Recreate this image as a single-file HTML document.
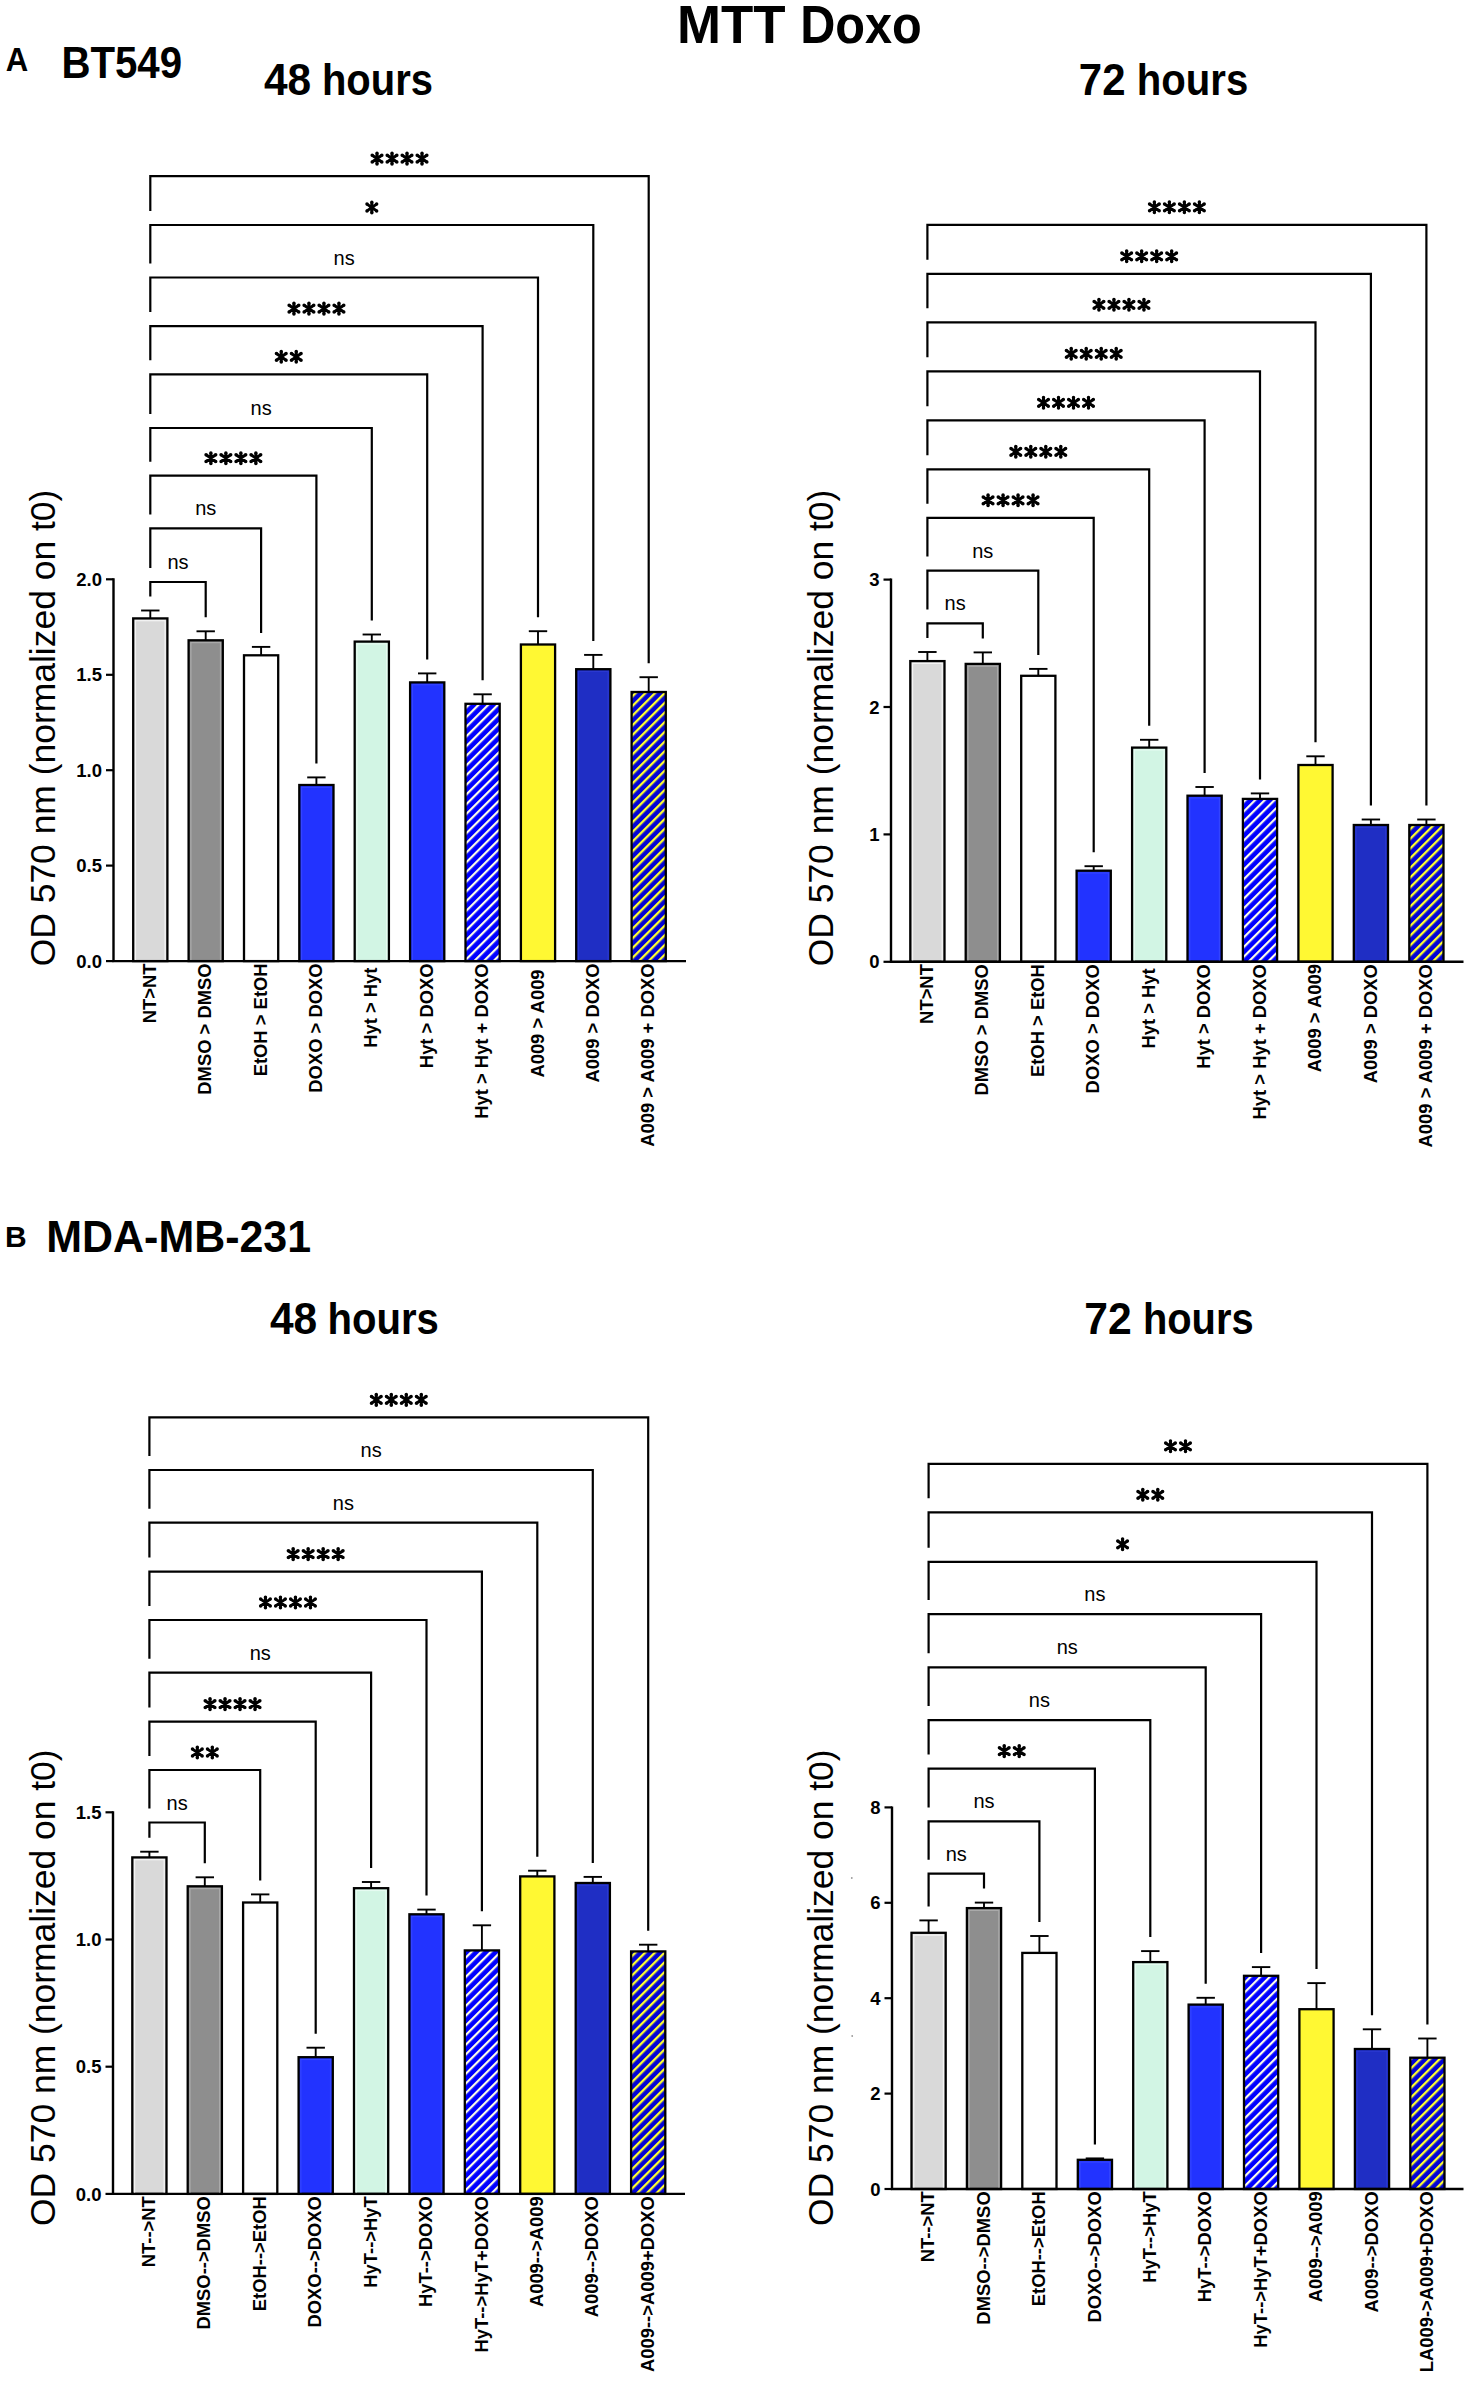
<!DOCTYPE html>
<html><head><meta charset="utf-8"><title>MTT Doxo</title>
<style>html,body{margin:0;padding:0;background:#fff;} svg{display:block;}</style></head>
<body><svg width="1475" height="2381" viewBox="0 0 1475 2381">
<defs>
<pattern id="hatchW" patternUnits="userSpaceOnUse" width="6.85" height="6.85" patternTransform="rotate(45)">
<rect width="6.85" height="6.85" fill="#0000ff"/><rect x="0" y="0" width="2.2" height="6.85" fill="#fdfde8"/></pattern>
<pattern id="hatchY" patternUnits="userSpaceOnUse" width="6.85" height="6.85" patternTransform="rotate(45)">
<rect width="6.85" height="6.85" fill="#0404d4"/><rect x="0" y="0" width="2.3" height="6.85" fill="#ffff30"/></pattern>
</defs>
<rect width="1475" height="2381" fill="#fff"/>
<text transform="translate(54.5,728.0) rotate(-90)" font-family="Liberation Sans, sans-serif" font-size="35.45" text-anchor="middle">OD 570 nm (normalized on t0)</text>
<line x1="106.0" y1="961.1" x2="113.5" y2="961.1" stroke="#000" stroke-width="2.2"/>
<text x="102.0" y="967.7" font-family="Liberation Sans, sans-serif" font-weight="bold" font-size="18.5" text-anchor="end">0.0</text>
<line x1="106.0" y1="865.6" x2="113.5" y2="865.6" stroke="#000" stroke-width="2.2"/>
<text x="102.0" y="872.2" font-family="Liberation Sans, sans-serif" font-weight="bold" font-size="18.5" text-anchor="end">0.5</text>
<line x1="106.0" y1="770.2" x2="113.5" y2="770.2" stroke="#000" stroke-width="2.2"/>
<text x="102.0" y="776.8" font-family="Liberation Sans, sans-serif" font-weight="bold" font-size="18.5" text-anchor="end">1.0</text>
<line x1="106.0" y1="674.8" x2="113.5" y2="674.8" stroke="#000" stroke-width="2.2"/>
<text x="102.0" y="681.4" font-family="Liberation Sans, sans-serif" font-weight="bold" font-size="18.5" text-anchor="end">1.5</text>
<line x1="106.0" y1="579.3" x2="113.5" y2="579.3" stroke="#000" stroke-width="2.2"/>
<text x="102.0" y="585.9" font-family="Liberation Sans, sans-serif" font-weight="bold" font-size="18.5" text-anchor="end">2.0</text>
<line x1="150.3" y1="610.5" x2="150.3" y2="618.4" stroke="#000" stroke-width="1.9"/>
<line x1="141.1" y1="610.5" x2="159.5" y2="610.5" stroke="#000" stroke-width="1.9"/>
<rect x="133.2" y="618.4" width="34.2" height="342.7" fill="#d9d9d9" stroke="#000" stroke-width="2.3"/>
<rect x="135.5" y="620.7" width="29.6" height="340.4" fill="none" stroke="#f4f4f4" stroke-width="1.2"/>
<line x1="205.7" y1="631.3" x2="205.7" y2="640.3" stroke="#000" stroke-width="1.9"/>
<line x1="196.5" y1="631.3" x2="214.9" y2="631.3" stroke="#000" stroke-width="1.9"/>
<rect x="188.6" y="640.3" width="34.2" height="320.8" fill="#8e8e8e" stroke="#000" stroke-width="2.3"/>
<rect x="190.9" y="642.6" width="29.6" height="318.5" fill="none" stroke="#aaaaaa" stroke-width="1.2"/>
<line x1="261.1" y1="646.9" x2="261.1" y2="655.3" stroke="#000" stroke-width="1.9"/>
<line x1="251.9" y1="646.9" x2="270.3" y2="646.9" stroke="#000" stroke-width="1.9"/>
<rect x="244.0" y="655.3" width="34.2" height="305.8" fill="#ffffff" stroke="#000" stroke-width="2.3"/>
<line x1="316.4" y1="777.4" x2="316.4" y2="785.0" stroke="#000" stroke-width="1.9"/>
<line x1="307.2" y1="777.4" x2="325.6" y2="777.4" stroke="#000" stroke-width="1.9"/>
<rect x="299.3" y="785.0" width="34.2" height="176.1" fill="#2233ff" stroke="#000" stroke-width="2.3"/>
<rect x="301.6" y="787.3" width="29.6" height="173.8" fill="none" stroke="#3344ff" stroke-width="1.2"/>
<line x1="371.8" y1="634.5" x2="371.8" y2="641.6" stroke="#000" stroke-width="1.9"/>
<line x1="362.6" y1="634.5" x2="381.0" y2="634.5" stroke="#000" stroke-width="1.9"/>
<rect x="354.7" y="641.6" width="34.2" height="319.5" fill="#d2f5e4" stroke="#000" stroke-width="2.3"/>
<rect x="357.0" y="643.9" width="29.6" height="317.2" fill="none" stroke="#e6fbf1" stroke-width="1.2"/>
<line x1="427.2" y1="673.4" x2="427.2" y2="682.4" stroke="#000" stroke-width="1.9"/>
<line x1="418.0" y1="673.4" x2="436.4" y2="673.4" stroke="#000" stroke-width="1.9"/>
<rect x="410.1" y="682.4" width="34.2" height="278.7" fill="#2233ff" stroke="#000" stroke-width="2.3"/>
<rect x="412.4" y="684.7" width="29.6" height="276.4" fill="none" stroke="#3344ff" stroke-width="1.2"/>
<line x1="482.6" y1="694.3" x2="482.6" y2="703.8" stroke="#000" stroke-width="1.9"/>
<line x1="473.4" y1="694.3" x2="491.8" y2="694.3" stroke="#000" stroke-width="1.9"/>
<rect x="465.5" y="703.8" width="34.2" height="257.3" fill="url(#hatchW)" stroke="#000" stroke-width="2.3"/>
<line x1="538.0" y1="631.2" x2="538.0" y2="644.5" stroke="#000" stroke-width="1.9"/>
<line x1="528.8" y1="631.2" x2="547.2" y2="631.2" stroke="#000" stroke-width="1.9"/>
<rect x="520.9" y="644.5" width="34.2" height="316.6" fill="#fff833" stroke="#000" stroke-width="2.3"/>
<line x1="593.3" y1="654.9" x2="593.3" y2="669.2" stroke="#000" stroke-width="1.9"/>
<line x1="584.1" y1="654.9" x2="602.5" y2="654.9" stroke="#000" stroke-width="1.9"/>
<rect x="576.2" y="669.2" width="34.2" height="291.9" fill="#1f2ec4" stroke="#000" stroke-width="2.3"/>
<rect x="578.5" y="671.5" width="29.6" height="289.6" fill="none" stroke="#2a38d0" stroke-width="1.2"/>
<line x1="648.7" y1="677.2" x2="648.7" y2="692.0" stroke="#000" stroke-width="1.9"/>
<line x1="639.5" y1="677.2" x2="657.9" y2="677.2" stroke="#000" stroke-width="1.9"/>
<rect x="631.6" y="692.0" width="34.2" height="269.1" fill="url(#hatchY)" stroke="#000" stroke-width="2.3"/>
<path d="M113.5 578.3L113.5 961.1L686.0 961.1" stroke="#000" stroke-width="2.4" fill="none"/>
<text transform="translate(155.9,963.4) rotate(-90)" font-family="Liberation Sans, sans-serif" font-weight="bold" font-size="18.4" text-anchor="end">NT&gt;NT</text>
<text transform="translate(211.3,963.4) rotate(-90)" font-family="Liberation Sans, sans-serif" font-weight="bold" font-size="18.4" text-anchor="end">DMSO &gt; DMSO</text>
<text transform="translate(266.7,963.4) rotate(-90)" font-family="Liberation Sans, sans-serif" font-weight="bold" font-size="18.4" text-anchor="end">EtOH &gt; EtOH</text>
<text transform="translate(322.0,963.4) rotate(-90)" font-family="Liberation Sans, sans-serif" font-weight="bold" font-size="18.4" text-anchor="end">DOXO &gt; DOXO</text>
<text transform="translate(377.4,967.6) rotate(-90)" font-family="Liberation Sans, sans-serif" font-weight="bold" font-size="18.4" text-anchor="end">Hyt &gt; Hyt</text>
<text transform="translate(432.8,963.4) rotate(-90)" font-family="Liberation Sans, sans-serif" font-weight="bold" font-size="18.4" text-anchor="end">Hyt &gt; DOXO</text>
<text transform="translate(488.2,963.4) rotate(-90)" font-family="Liberation Sans, sans-serif" font-weight="bold" font-size="18.4" text-anchor="end">Hyt &gt; Hyt + DOXO</text>
<text transform="translate(543.6,969.4) rotate(-90)" font-family="Liberation Sans, sans-serif" font-weight="bold" font-size="18.4" text-anchor="end">A009 &gt; A009</text>
<text transform="translate(598.9,963.4) rotate(-90)" font-family="Liberation Sans, sans-serif" font-weight="bold" font-size="18.4" text-anchor="end">A009 &gt; DOXO</text>
<text transform="translate(654.3,963.4) rotate(-90)" font-family="Liberation Sans, sans-serif" font-weight="bold" font-size="18.4" text-anchor="end">A009 &gt; A009 + DOXO</text>
<path d="M150.3 596.5L150.3 582.0L205.7 582.0L205.7 617.3" stroke="#000" stroke-width="2.2" fill="none"/>
<text x="178.0" y="569.0" font-family="Liberation Sans, sans-serif" font-size="20" text-anchor="middle">ns</text>
<path d="M150.3 568.0L150.3 528.4L261.1 528.4L261.1 632.9" stroke="#000" stroke-width="2.2" fill="none"/>
<text x="205.7" y="515.4" font-family="Liberation Sans, sans-serif" font-size="20" text-anchor="middle">ns</text>
<path d="M150.3 514.4L150.3 475.7L316.4 475.7L316.4 763.4" stroke="#000" stroke-width="2.2" fill="none"/>
<path d="M210.87 463.50L210.87 452.90M206.04 461.58L215.70 454.82M206.04 454.82L215.70 461.58M225.87 463.50L225.87 452.90M221.04 461.58L230.70 454.82M221.04 454.82L230.70 461.58M240.87 463.50L240.87 452.90M236.04 461.58L245.70 454.82M236.04 454.82L245.70 461.58M255.87 463.50L255.87 452.90M251.04 461.58L260.70 454.82M251.04 454.82L260.70 461.58" stroke="#000" stroke-width="3.0" stroke-linecap="butt" fill="none"/><path d="M209.12 463.50a1.75 1.75 0 1 0 3.5 0a1.75 1.75 0 1 0 -3.5 0M209.12 452.90a1.75 1.75 0 1 0 3.5 0a1.75 1.75 0 1 0 -3.5 0M204.29 461.58a1.75 1.75 0 1 0 3.5 0a1.75 1.75 0 1 0 -3.5 0M213.95 454.82a1.75 1.75 0 1 0 3.5 0a1.75 1.75 0 1 0 -3.5 0M204.29 454.82a1.75 1.75 0 1 0 3.5 0a1.75 1.75 0 1 0 -3.5 0M213.95 461.58a1.75 1.75 0 1 0 3.5 0a1.75 1.75 0 1 0 -3.5 0M224.12 463.50a1.75 1.75 0 1 0 3.5 0a1.75 1.75 0 1 0 -3.5 0M224.12 452.90a1.75 1.75 0 1 0 3.5 0a1.75 1.75 0 1 0 -3.5 0M219.29 461.58a1.75 1.75 0 1 0 3.5 0a1.75 1.75 0 1 0 -3.5 0M228.95 454.82a1.75 1.75 0 1 0 3.5 0a1.75 1.75 0 1 0 -3.5 0M219.29 454.82a1.75 1.75 0 1 0 3.5 0a1.75 1.75 0 1 0 -3.5 0M228.95 461.58a1.75 1.75 0 1 0 3.5 0a1.75 1.75 0 1 0 -3.5 0M239.12 463.50a1.75 1.75 0 1 0 3.5 0a1.75 1.75 0 1 0 -3.5 0M239.12 452.90a1.75 1.75 0 1 0 3.5 0a1.75 1.75 0 1 0 -3.5 0M234.29 461.58a1.75 1.75 0 1 0 3.5 0a1.75 1.75 0 1 0 -3.5 0M243.95 454.82a1.75 1.75 0 1 0 3.5 0a1.75 1.75 0 1 0 -3.5 0M234.29 454.82a1.75 1.75 0 1 0 3.5 0a1.75 1.75 0 1 0 -3.5 0M243.95 461.58a1.75 1.75 0 1 0 3.5 0a1.75 1.75 0 1 0 -3.5 0M254.12 463.50a1.75 1.75 0 1 0 3.5 0a1.75 1.75 0 1 0 -3.5 0M254.12 452.90a1.75 1.75 0 1 0 3.5 0a1.75 1.75 0 1 0 -3.5 0M249.29 461.58a1.75 1.75 0 1 0 3.5 0a1.75 1.75 0 1 0 -3.5 0M258.95 454.82a1.75 1.75 0 1 0 3.5 0a1.75 1.75 0 1 0 -3.5 0M249.29 454.82a1.75 1.75 0 1 0 3.5 0a1.75 1.75 0 1 0 -3.5 0M258.95 461.58a1.75 1.75 0 1 0 3.5 0a1.75 1.75 0 1 0 -3.5 0" fill="#000"/>
<path d="M150.3 461.7L150.3 428.0L371.8 428.0L371.8 620.5" stroke="#000" stroke-width="2.2" fill="none"/>
<text x="261.1" y="415.0" font-family="Liberation Sans, sans-serif" font-size="20" text-anchor="middle">ns</text>
<path d="M150.3 414.0L150.3 374.3L427.2 374.3L427.2 659.4" stroke="#000" stroke-width="2.2" fill="none"/>
<path d="M281.25 362.10L281.25 351.50M276.42 360.18L286.08 353.42M276.42 353.42L286.08 360.18M296.25 362.10L296.25 351.50M291.42 360.18L301.08 353.42M291.42 353.42L301.08 360.18" stroke="#000" stroke-width="3.0" stroke-linecap="butt" fill="none"/><path d="M279.50 362.10a1.75 1.75 0 1 0 3.5 0a1.75 1.75 0 1 0 -3.5 0M279.50 351.50a1.75 1.75 0 1 0 3.5 0a1.75 1.75 0 1 0 -3.5 0M274.67 360.18a1.75 1.75 0 1 0 3.5 0a1.75 1.75 0 1 0 -3.5 0M284.33 353.42a1.75 1.75 0 1 0 3.5 0a1.75 1.75 0 1 0 -3.5 0M274.67 353.42a1.75 1.75 0 1 0 3.5 0a1.75 1.75 0 1 0 -3.5 0M284.33 360.18a1.75 1.75 0 1 0 3.5 0a1.75 1.75 0 1 0 -3.5 0M294.50 362.10a1.75 1.75 0 1 0 3.5 0a1.75 1.75 0 1 0 -3.5 0M294.50 351.50a1.75 1.75 0 1 0 3.5 0a1.75 1.75 0 1 0 -3.5 0M289.67 360.18a1.75 1.75 0 1 0 3.5 0a1.75 1.75 0 1 0 -3.5 0M299.33 353.42a1.75 1.75 0 1 0 3.5 0a1.75 1.75 0 1 0 -3.5 0M289.67 353.42a1.75 1.75 0 1 0 3.5 0a1.75 1.75 0 1 0 -3.5 0M299.33 360.18a1.75 1.75 0 1 0 3.5 0a1.75 1.75 0 1 0 -3.5 0" fill="#000"/>
<path d="M150.3 360.3L150.3 326.1L482.6 326.1L482.6 680.3" stroke="#000" stroke-width="2.2" fill="none"/>
<path d="M293.94 313.90L293.94 303.30M289.11 311.98L298.77 305.22M289.11 305.22L298.77 311.98M308.94 313.90L308.94 303.30M304.11 311.98L313.77 305.22M304.11 305.22L313.77 311.98M323.94 313.90L323.94 303.30M319.11 311.98L328.77 305.22M319.11 305.22L328.77 311.98M338.94 313.90L338.94 303.30M334.11 311.98L343.77 305.22M334.11 305.22L343.77 311.98" stroke="#000" stroke-width="3.0" stroke-linecap="butt" fill="none"/><path d="M292.19 313.90a1.75 1.75 0 1 0 3.5 0a1.75 1.75 0 1 0 -3.5 0M292.19 303.30a1.75 1.75 0 1 0 3.5 0a1.75 1.75 0 1 0 -3.5 0M287.36 311.98a1.75 1.75 0 1 0 3.5 0a1.75 1.75 0 1 0 -3.5 0M297.02 305.22a1.75 1.75 0 1 0 3.5 0a1.75 1.75 0 1 0 -3.5 0M287.36 305.22a1.75 1.75 0 1 0 3.5 0a1.75 1.75 0 1 0 -3.5 0M297.02 311.98a1.75 1.75 0 1 0 3.5 0a1.75 1.75 0 1 0 -3.5 0M307.19 313.90a1.75 1.75 0 1 0 3.5 0a1.75 1.75 0 1 0 -3.5 0M307.19 303.30a1.75 1.75 0 1 0 3.5 0a1.75 1.75 0 1 0 -3.5 0M302.36 311.98a1.75 1.75 0 1 0 3.5 0a1.75 1.75 0 1 0 -3.5 0M312.02 305.22a1.75 1.75 0 1 0 3.5 0a1.75 1.75 0 1 0 -3.5 0M302.36 305.22a1.75 1.75 0 1 0 3.5 0a1.75 1.75 0 1 0 -3.5 0M312.02 311.98a1.75 1.75 0 1 0 3.5 0a1.75 1.75 0 1 0 -3.5 0M322.19 313.90a1.75 1.75 0 1 0 3.5 0a1.75 1.75 0 1 0 -3.5 0M322.19 303.30a1.75 1.75 0 1 0 3.5 0a1.75 1.75 0 1 0 -3.5 0M317.36 311.98a1.75 1.75 0 1 0 3.5 0a1.75 1.75 0 1 0 -3.5 0M327.02 305.22a1.75 1.75 0 1 0 3.5 0a1.75 1.75 0 1 0 -3.5 0M317.36 305.22a1.75 1.75 0 1 0 3.5 0a1.75 1.75 0 1 0 -3.5 0M327.02 311.98a1.75 1.75 0 1 0 3.5 0a1.75 1.75 0 1 0 -3.5 0M337.19 313.90a1.75 1.75 0 1 0 3.5 0a1.75 1.75 0 1 0 -3.5 0M337.19 303.30a1.75 1.75 0 1 0 3.5 0a1.75 1.75 0 1 0 -3.5 0M332.36 311.98a1.75 1.75 0 1 0 3.5 0a1.75 1.75 0 1 0 -3.5 0M342.02 305.22a1.75 1.75 0 1 0 3.5 0a1.75 1.75 0 1 0 -3.5 0M332.36 305.22a1.75 1.75 0 1 0 3.5 0a1.75 1.75 0 1 0 -3.5 0M342.02 311.98a1.75 1.75 0 1 0 3.5 0a1.75 1.75 0 1 0 -3.5 0" fill="#000"/>
<path d="M150.3 312.1L150.3 277.5L538.0 277.5L538.0 617.2" stroke="#000" stroke-width="2.2" fill="none"/>
<text x="344.1" y="264.5" font-family="Liberation Sans, sans-serif" font-size="20" text-anchor="middle">ns</text>
<path d="M150.3 263.5L150.3 225.0L593.3 225.0L593.3 640.9" stroke="#000" stroke-width="2.2" fill="none"/>
<path d="M371.82 212.80L371.82 202.20M366.99 210.88L376.65 204.12M366.99 204.12L376.65 210.88" stroke="#000" stroke-width="3.0" stroke-linecap="butt" fill="none"/><path d="M370.07 212.80a1.75 1.75 0 1 0 3.5 0a1.75 1.75 0 1 0 -3.5 0M370.07 202.20a1.75 1.75 0 1 0 3.5 0a1.75 1.75 0 1 0 -3.5 0M365.24 210.88a1.75 1.75 0 1 0 3.5 0a1.75 1.75 0 1 0 -3.5 0M374.90 204.12a1.75 1.75 0 1 0 3.5 0a1.75 1.75 0 1 0 -3.5 0M365.24 204.12a1.75 1.75 0 1 0 3.5 0a1.75 1.75 0 1 0 -3.5 0M374.90 210.88a1.75 1.75 0 1 0 3.5 0a1.75 1.75 0 1 0 -3.5 0" fill="#000"/>
<path d="M150.3 211.0L150.3 176.1L648.7 176.1L648.7 663.2" stroke="#000" stroke-width="2.2" fill="none"/>
<path d="M377.01 163.90L377.01 153.30M372.18 161.98L381.84 155.22M372.18 155.22L381.84 161.98M392.01 163.90L392.01 153.30M387.18 161.98L396.84 155.22M387.18 155.22L396.84 161.98M407.01 163.90L407.01 153.30M402.18 161.98L411.84 155.22M402.18 155.22L411.84 161.98M422.01 163.90L422.01 153.30M417.18 161.98L426.84 155.22M417.18 155.22L426.84 161.98" stroke="#000" stroke-width="3.0" stroke-linecap="butt" fill="none"/><path d="M375.26 163.90a1.75 1.75 0 1 0 3.5 0a1.75 1.75 0 1 0 -3.5 0M375.26 153.30a1.75 1.75 0 1 0 3.5 0a1.75 1.75 0 1 0 -3.5 0M370.43 161.98a1.75 1.75 0 1 0 3.5 0a1.75 1.75 0 1 0 -3.5 0M380.09 155.22a1.75 1.75 0 1 0 3.5 0a1.75 1.75 0 1 0 -3.5 0M370.43 155.22a1.75 1.75 0 1 0 3.5 0a1.75 1.75 0 1 0 -3.5 0M380.09 161.98a1.75 1.75 0 1 0 3.5 0a1.75 1.75 0 1 0 -3.5 0M390.26 163.90a1.75 1.75 0 1 0 3.5 0a1.75 1.75 0 1 0 -3.5 0M390.26 153.30a1.75 1.75 0 1 0 3.5 0a1.75 1.75 0 1 0 -3.5 0M385.43 161.98a1.75 1.75 0 1 0 3.5 0a1.75 1.75 0 1 0 -3.5 0M395.09 155.22a1.75 1.75 0 1 0 3.5 0a1.75 1.75 0 1 0 -3.5 0M385.43 155.22a1.75 1.75 0 1 0 3.5 0a1.75 1.75 0 1 0 -3.5 0M395.09 161.98a1.75 1.75 0 1 0 3.5 0a1.75 1.75 0 1 0 -3.5 0M405.26 163.90a1.75 1.75 0 1 0 3.5 0a1.75 1.75 0 1 0 -3.5 0M405.26 153.30a1.75 1.75 0 1 0 3.5 0a1.75 1.75 0 1 0 -3.5 0M400.43 161.98a1.75 1.75 0 1 0 3.5 0a1.75 1.75 0 1 0 -3.5 0M410.09 155.22a1.75 1.75 0 1 0 3.5 0a1.75 1.75 0 1 0 -3.5 0M400.43 155.22a1.75 1.75 0 1 0 3.5 0a1.75 1.75 0 1 0 -3.5 0M410.09 161.98a1.75 1.75 0 1 0 3.5 0a1.75 1.75 0 1 0 -3.5 0M420.26 163.90a1.75 1.75 0 1 0 3.5 0a1.75 1.75 0 1 0 -3.5 0M420.26 153.30a1.75 1.75 0 1 0 3.5 0a1.75 1.75 0 1 0 -3.5 0M415.43 161.98a1.75 1.75 0 1 0 3.5 0a1.75 1.75 0 1 0 -3.5 0M425.09 155.22a1.75 1.75 0 1 0 3.5 0a1.75 1.75 0 1 0 -3.5 0M415.43 155.22a1.75 1.75 0 1 0 3.5 0a1.75 1.75 0 1 0 -3.5 0M425.09 161.98a1.75 1.75 0 1 0 3.5 0a1.75 1.75 0 1 0 -3.5 0" fill="#000"/>
<text transform="translate(833.1,728.0) rotate(-90)" font-family="Liberation Sans, sans-serif" font-size="35.45" text-anchor="middle">OD 570 nm (normalized on t0)</text>
<line x1="883.5" y1="961.8" x2="891.0" y2="961.8" stroke="#000" stroke-width="2.2"/>
<text x="879.5" y="968.4" font-family="Liberation Sans, sans-serif" font-weight="bold" font-size="18.5" text-anchor="end">0</text>
<line x1="883.5" y1="834.4" x2="891.0" y2="834.4" stroke="#000" stroke-width="2.2"/>
<text x="879.5" y="841.0" font-family="Liberation Sans, sans-serif" font-weight="bold" font-size="18.5" text-anchor="end">1</text>
<line x1="883.5" y1="707.0" x2="891.0" y2="707.0" stroke="#000" stroke-width="2.2"/>
<text x="879.5" y="713.6" font-family="Liberation Sans, sans-serif" font-weight="bold" font-size="18.5" text-anchor="end">2</text>
<line x1="883.5" y1="579.6" x2="891.0" y2="579.6" stroke="#000" stroke-width="2.2"/>
<text x="879.5" y="586.2" font-family="Liberation Sans, sans-serif" font-weight="bold" font-size="18.5" text-anchor="end">3</text>
<line x1="927.4" y1="652.0" x2="927.4" y2="661.1" stroke="#000" stroke-width="1.9"/>
<line x1="918.2" y1="652.0" x2="936.6" y2="652.0" stroke="#000" stroke-width="1.9"/>
<rect x="910.3" y="661.1" width="34.2" height="300.7" fill="#d9d9d9" stroke="#000" stroke-width="2.3"/>
<rect x="912.6" y="663.4" width="29.6" height="298.4" fill="none" stroke="#f4f4f4" stroke-width="1.2"/>
<line x1="982.8" y1="652.4" x2="982.8" y2="663.9" stroke="#000" stroke-width="1.9"/>
<line x1="973.6" y1="652.4" x2="992.0" y2="652.4" stroke="#000" stroke-width="1.9"/>
<rect x="965.7" y="663.9" width="34.2" height="297.9" fill="#8e8e8e" stroke="#000" stroke-width="2.3"/>
<rect x="968.0" y="666.2" width="29.6" height="295.6" fill="none" stroke="#aaaaaa" stroke-width="1.2"/>
<line x1="1038.3" y1="668.9" x2="1038.3" y2="675.8" stroke="#000" stroke-width="1.9"/>
<line x1="1029.1" y1="668.9" x2="1047.5" y2="668.9" stroke="#000" stroke-width="1.9"/>
<rect x="1021.2" y="675.8" width="34.2" height="286.0" fill="#ffffff" stroke="#000" stroke-width="2.3"/>
<line x1="1093.7" y1="866.2" x2="1093.7" y2="870.7" stroke="#000" stroke-width="1.9"/>
<line x1="1084.5" y1="866.2" x2="1102.9" y2="866.2" stroke="#000" stroke-width="1.9"/>
<rect x="1076.6" y="870.7" width="34.2" height="91.1" fill="#2233ff" stroke="#000" stroke-width="2.3"/>
<rect x="1078.9" y="873.0" width="29.6" height="88.8" fill="none" stroke="#3344ff" stroke-width="1.2"/>
<line x1="1149.2" y1="739.8" x2="1149.2" y2="747.6" stroke="#000" stroke-width="1.9"/>
<line x1="1140.0" y1="739.8" x2="1158.4" y2="739.8" stroke="#000" stroke-width="1.9"/>
<rect x="1132.1" y="747.6" width="34.2" height="214.2" fill="#d2f5e4" stroke="#000" stroke-width="2.3"/>
<rect x="1134.4" y="749.9" width="29.6" height="211.9" fill="none" stroke="#e6fbf1" stroke-width="1.2"/>
<line x1="1204.6" y1="787.0" x2="1204.6" y2="795.7" stroke="#000" stroke-width="1.9"/>
<line x1="1195.4" y1="787.0" x2="1213.8" y2="787.0" stroke="#000" stroke-width="1.9"/>
<rect x="1187.5" y="795.7" width="34.2" height="166.1" fill="#2233ff" stroke="#000" stroke-width="2.3"/>
<rect x="1189.8" y="798.0" width="29.6" height="163.8" fill="none" stroke="#3344ff" stroke-width="1.2"/>
<line x1="1260.0" y1="793.4" x2="1260.0" y2="798.9" stroke="#000" stroke-width="1.9"/>
<line x1="1250.8" y1="793.4" x2="1269.2" y2="793.4" stroke="#000" stroke-width="1.9"/>
<rect x="1242.9" y="798.9" width="34.2" height="162.9" fill="url(#hatchW)" stroke="#000" stroke-width="2.3"/>
<line x1="1315.5" y1="756.3" x2="1315.5" y2="765.0" stroke="#000" stroke-width="1.9"/>
<line x1="1306.3" y1="756.3" x2="1324.7" y2="756.3" stroke="#000" stroke-width="1.9"/>
<rect x="1298.4" y="765.0" width="34.2" height="196.8" fill="#fff833" stroke="#000" stroke-width="2.3"/>
<line x1="1370.9" y1="819.5" x2="1370.9" y2="825.0" stroke="#000" stroke-width="1.9"/>
<line x1="1361.7" y1="819.5" x2="1380.1" y2="819.5" stroke="#000" stroke-width="1.9"/>
<rect x="1353.8" y="825.0" width="34.2" height="136.8" fill="#1f2ec4" stroke="#000" stroke-width="2.3"/>
<rect x="1356.1" y="827.3" width="29.6" height="134.5" fill="none" stroke="#2a38d0" stroke-width="1.2"/>
<line x1="1426.4" y1="819.5" x2="1426.4" y2="825.0" stroke="#000" stroke-width="1.9"/>
<line x1="1417.2" y1="819.5" x2="1435.6" y2="819.5" stroke="#000" stroke-width="1.9"/>
<rect x="1409.3" y="825.0" width="34.2" height="136.8" fill="url(#hatchY)" stroke="#000" stroke-width="2.3"/>
<path d="M891.0 578.6L891.0 961.8L1463.5 961.8" stroke="#000" stroke-width="2.4" fill="none"/>
<text transform="translate(933.0,964.1) rotate(-90)" font-family="Liberation Sans, sans-serif" font-weight="bold" font-size="18.4" text-anchor="end">NT&gt;NT</text>
<text transform="translate(988.4,964.1) rotate(-90)" font-family="Liberation Sans, sans-serif" font-weight="bold" font-size="18.4" text-anchor="end">DMSO &gt; DMSO</text>
<text transform="translate(1043.9,964.1) rotate(-90)" font-family="Liberation Sans, sans-serif" font-weight="bold" font-size="18.4" text-anchor="end">EtOH &gt; EtOH</text>
<text transform="translate(1099.3,964.1) rotate(-90)" font-family="Liberation Sans, sans-serif" font-weight="bold" font-size="18.4" text-anchor="end">DOXO &gt; DOXO</text>
<text transform="translate(1154.8,968.3) rotate(-90)" font-family="Liberation Sans, sans-serif" font-weight="bold" font-size="18.4" text-anchor="end">Hyt &gt; Hyt</text>
<text transform="translate(1210.2,964.1) rotate(-90)" font-family="Liberation Sans, sans-serif" font-weight="bold" font-size="18.4" text-anchor="end">Hyt &gt; DOXO</text>
<text transform="translate(1265.6,964.1) rotate(-90)" font-family="Liberation Sans, sans-serif" font-weight="bold" font-size="18.4" text-anchor="end">Hyt &gt; Hyt + DOXO</text>
<text transform="translate(1321.1,964.1) rotate(-90)" font-family="Liberation Sans, sans-serif" font-weight="bold" font-size="18.4" text-anchor="end">A009 &gt; A009</text>
<text transform="translate(1376.5,964.1) rotate(-90)" font-family="Liberation Sans, sans-serif" font-weight="bold" font-size="18.4" text-anchor="end">A009 &gt; DOXO</text>
<text transform="translate(1432.0,964.1) rotate(-90)" font-family="Liberation Sans, sans-serif" font-weight="bold" font-size="18.4" text-anchor="end">A009 &gt; A009 + DOXO</text>
<path d="M927.4 638.0L927.4 623.4L982.8 623.4L982.8 638.4" stroke="#000" stroke-width="2.2" fill="none"/>
<text x="955.1" y="610.4" font-family="Liberation Sans, sans-serif" font-size="20" text-anchor="middle">ns</text>
<path d="M927.4 609.4L927.4 570.6L1038.3 570.6L1038.3 654.9" stroke="#000" stroke-width="2.2" fill="none"/>
<text x="982.8" y="557.6" font-family="Liberation Sans, sans-serif" font-size="20" text-anchor="middle">ns</text>
<path d="M927.4 556.6L927.4 517.8L1093.7 517.8L1093.7 852.2" stroke="#000" stroke-width="2.2" fill="none"/>
<path d="M988.06 505.60L988.06 495.00M983.23 503.68L992.89 496.92M983.23 496.92L992.89 503.68M1003.06 505.60L1003.06 495.00M998.23 503.68L1007.89 496.92M998.23 496.92L1007.89 503.68M1018.06 505.60L1018.06 495.00M1013.23 503.68L1022.89 496.92M1013.23 496.92L1022.89 503.68M1033.06 505.60L1033.06 495.00M1028.23 503.68L1037.89 496.92M1028.23 496.92L1037.89 503.68" stroke="#000" stroke-width="3.0" stroke-linecap="butt" fill="none"/><path d="M986.31 505.60a1.75 1.75 0 1 0 3.5 0a1.75 1.75 0 1 0 -3.5 0M986.31 495.00a1.75 1.75 0 1 0 3.5 0a1.75 1.75 0 1 0 -3.5 0M981.48 503.68a1.75 1.75 0 1 0 3.5 0a1.75 1.75 0 1 0 -3.5 0M991.14 496.92a1.75 1.75 0 1 0 3.5 0a1.75 1.75 0 1 0 -3.5 0M981.48 496.92a1.75 1.75 0 1 0 3.5 0a1.75 1.75 0 1 0 -3.5 0M991.14 503.68a1.75 1.75 0 1 0 3.5 0a1.75 1.75 0 1 0 -3.5 0M1001.31 505.60a1.75 1.75 0 1 0 3.5 0a1.75 1.75 0 1 0 -3.5 0M1001.31 495.00a1.75 1.75 0 1 0 3.5 0a1.75 1.75 0 1 0 -3.5 0M996.48 503.68a1.75 1.75 0 1 0 3.5 0a1.75 1.75 0 1 0 -3.5 0M1006.14 496.92a1.75 1.75 0 1 0 3.5 0a1.75 1.75 0 1 0 -3.5 0M996.48 496.92a1.75 1.75 0 1 0 3.5 0a1.75 1.75 0 1 0 -3.5 0M1006.14 503.68a1.75 1.75 0 1 0 3.5 0a1.75 1.75 0 1 0 -3.5 0M1016.31 505.60a1.75 1.75 0 1 0 3.5 0a1.75 1.75 0 1 0 -3.5 0M1016.31 495.00a1.75 1.75 0 1 0 3.5 0a1.75 1.75 0 1 0 -3.5 0M1011.48 503.68a1.75 1.75 0 1 0 3.5 0a1.75 1.75 0 1 0 -3.5 0M1021.14 496.92a1.75 1.75 0 1 0 3.5 0a1.75 1.75 0 1 0 -3.5 0M1011.48 496.92a1.75 1.75 0 1 0 3.5 0a1.75 1.75 0 1 0 -3.5 0M1021.14 503.68a1.75 1.75 0 1 0 3.5 0a1.75 1.75 0 1 0 -3.5 0M1031.31 505.60a1.75 1.75 0 1 0 3.5 0a1.75 1.75 0 1 0 -3.5 0M1031.31 495.00a1.75 1.75 0 1 0 3.5 0a1.75 1.75 0 1 0 -3.5 0M1026.48 503.68a1.75 1.75 0 1 0 3.5 0a1.75 1.75 0 1 0 -3.5 0M1036.14 496.92a1.75 1.75 0 1 0 3.5 0a1.75 1.75 0 1 0 -3.5 0M1026.48 496.92a1.75 1.75 0 1 0 3.5 0a1.75 1.75 0 1 0 -3.5 0M1036.14 503.68a1.75 1.75 0 1 0 3.5 0a1.75 1.75 0 1 0 -3.5 0" fill="#000"/>
<path d="M927.4 503.8L927.4 469.3L1149.2 469.3L1149.2 725.8" stroke="#000" stroke-width="2.2" fill="none"/>
<path d="M1015.78 457.10L1015.78 446.50M1010.95 455.18L1020.61 448.42M1010.95 448.42L1020.61 455.18M1030.78 457.10L1030.78 446.50M1025.95 455.18L1035.61 448.42M1025.95 448.42L1035.61 455.18M1045.78 457.10L1045.78 446.50M1040.95 455.18L1050.61 448.42M1040.95 448.42L1050.61 455.18M1060.78 457.10L1060.78 446.50M1055.95 455.18L1065.61 448.42M1055.95 448.42L1065.61 455.18" stroke="#000" stroke-width="3.0" stroke-linecap="butt" fill="none"/><path d="M1014.03 457.10a1.75 1.75 0 1 0 3.5 0a1.75 1.75 0 1 0 -3.5 0M1014.03 446.50a1.75 1.75 0 1 0 3.5 0a1.75 1.75 0 1 0 -3.5 0M1009.20 455.18a1.75 1.75 0 1 0 3.5 0a1.75 1.75 0 1 0 -3.5 0M1018.86 448.42a1.75 1.75 0 1 0 3.5 0a1.75 1.75 0 1 0 -3.5 0M1009.20 448.42a1.75 1.75 0 1 0 3.5 0a1.75 1.75 0 1 0 -3.5 0M1018.86 455.18a1.75 1.75 0 1 0 3.5 0a1.75 1.75 0 1 0 -3.5 0M1029.03 457.10a1.75 1.75 0 1 0 3.5 0a1.75 1.75 0 1 0 -3.5 0M1029.03 446.50a1.75 1.75 0 1 0 3.5 0a1.75 1.75 0 1 0 -3.5 0M1024.20 455.18a1.75 1.75 0 1 0 3.5 0a1.75 1.75 0 1 0 -3.5 0M1033.86 448.42a1.75 1.75 0 1 0 3.5 0a1.75 1.75 0 1 0 -3.5 0M1024.20 448.42a1.75 1.75 0 1 0 3.5 0a1.75 1.75 0 1 0 -3.5 0M1033.86 455.18a1.75 1.75 0 1 0 3.5 0a1.75 1.75 0 1 0 -3.5 0M1044.03 457.10a1.75 1.75 0 1 0 3.5 0a1.75 1.75 0 1 0 -3.5 0M1044.03 446.50a1.75 1.75 0 1 0 3.5 0a1.75 1.75 0 1 0 -3.5 0M1039.20 455.18a1.75 1.75 0 1 0 3.5 0a1.75 1.75 0 1 0 -3.5 0M1048.86 448.42a1.75 1.75 0 1 0 3.5 0a1.75 1.75 0 1 0 -3.5 0M1039.20 448.42a1.75 1.75 0 1 0 3.5 0a1.75 1.75 0 1 0 -3.5 0M1048.86 455.18a1.75 1.75 0 1 0 3.5 0a1.75 1.75 0 1 0 -3.5 0M1059.03 457.10a1.75 1.75 0 1 0 3.5 0a1.75 1.75 0 1 0 -3.5 0M1059.03 446.50a1.75 1.75 0 1 0 3.5 0a1.75 1.75 0 1 0 -3.5 0M1054.20 455.18a1.75 1.75 0 1 0 3.5 0a1.75 1.75 0 1 0 -3.5 0M1063.86 448.42a1.75 1.75 0 1 0 3.5 0a1.75 1.75 0 1 0 -3.5 0M1054.20 448.42a1.75 1.75 0 1 0 3.5 0a1.75 1.75 0 1 0 -3.5 0M1063.86 455.18a1.75 1.75 0 1 0 3.5 0a1.75 1.75 0 1 0 -3.5 0" fill="#000"/>
<path d="M927.4 455.3L927.4 420.3L1204.6 420.3L1204.6 773.0" stroke="#000" stroke-width="2.2" fill="none"/>
<path d="M1043.50 408.10L1043.50 397.50M1038.67 406.18L1048.33 399.42M1038.67 399.42L1048.33 406.18M1058.50 408.10L1058.50 397.50M1053.67 406.18L1063.33 399.42M1053.67 399.42L1063.33 406.18M1073.50 408.10L1073.50 397.50M1068.67 406.18L1078.33 399.42M1068.67 399.42L1078.33 406.18M1088.50 408.10L1088.50 397.50M1083.67 406.18L1093.33 399.42M1083.67 399.42L1093.33 406.18" stroke="#000" stroke-width="3.0" stroke-linecap="butt" fill="none"/><path d="M1041.75 408.10a1.75 1.75 0 1 0 3.5 0a1.75 1.75 0 1 0 -3.5 0M1041.75 397.50a1.75 1.75 0 1 0 3.5 0a1.75 1.75 0 1 0 -3.5 0M1036.92 406.18a1.75 1.75 0 1 0 3.5 0a1.75 1.75 0 1 0 -3.5 0M1046.58 399.42a1.75 1.75 0 1 0 3.5 0a1.75 1.75 0 1 0 -3.5 0M1036.92 399.42a1.75 1.75 0 1 0 3.5 0a1.75 1.75 0 1 0 -3.5 0M1046.58 406.18a1.75 1.75 0 1 0 3.5 0a1.75 1.75 0 1 0 -3.5 0M1056.75 408.10a1.75 1.75 0 1 0 3.5 0a1.75 1.75 0 1 0 -3.5 0M1056.75 397.50a1.75 1.75 0 1 0 3.5 0a1.75 1.75 0 1 0 -3.5 0M1051.92 406.18a1.75 1.75 0 1 0 3.5 0a1.75 1.75 0 1 0 -3.5 0M1061.58 399.42a1.75 1.75 0 1 0 3.5 0a1.75 1.75 0 1 0 -3.5 0M1051.92 399.42a1.75 1.75 0 1 0 3.5 0a1.75 1.75 0 1 0 -3.5 0M1061.58 406.18a1.75 1.75 0 1 0 3.5 0a1.75 1.75 0 1 0 -3.5 0M1071.75 408.10a1.75 1.75 0 1 0 3.5 0a1.75 1.75 0 1 0 -3.5 0M1071.75 397.50a1.75 1.75 0 1 0 3.5 0a1.75 1.75 0 1 0 -3.5 0M1066.92 406.18a1.75 1.75 0 1 0 3.5 0a1.75 1.75 0 1 0 -3.5 0M1076.58 399.42a1.75 1.75 0 1 0 3.5 0a1.75 1.75 0 1 0 -3.5 0M1066.92 399.42a1.75 1.75 0 1 0 3.5 0a1.75 1.75 0 1 0 -3.5 0M1076.58 406.18a1.75 1.75 0 1 0 3.5 0a1.75 1.75 0 1 0 -3.5 0M1086.75 408.10a1.75 1.75 0 1 0 3.5 0a1.75 1.75 0 1 0 -3.5 0M1086.75 397.50a1.75 1.75 0 1 0 3.5 0a1.75 1.75 0 1 0 -3.5 0M1081.92 406.18a1.75 1.75 0 1 0 3.5 0a1.75 1.75 0 1 0 -3.5 0M1091.58 399.42a1.75 1.75 0 1 0 3.5 0a1.75 1.75 0 1 0 -3.5 0M1081.92 399.42a1.75 1.75 0 1 0 3.5 0a1.75 1.75 0 1 0 -3.5 0M1091.58 406.18a1.75 1.75 0 1 0 3.5 0a1.75 1.75 0 1 0 -3.5 0" fill="#000"/>
<path d="M927.4 406.3L927.4 371.3L1260.0 371.3L1260.0 779.4" stroke="#000" stroke-width="2.2" fill="none"/>
<path d="M1071.22 359.10L1071.22 348.50M1066.39 357.18L1076.05 350.42M1066.39 350.42L1076.05 357.18M1086.22 359.10L1086.22 348.50M1081.39 357.18L1091.05 350.42M1081.39 350.42L1091.05 357.18M1101.22 359.10L1101.22 348.50M1096.39 357.18L1106.05 350.42M1096.39 350.42L1106.05 357.18M1116.22 359.10L1116.22 348.50M1111.39 357.18L1121.05 350.42M1111.39 350.42L1121.05 357.18" stroke="#000" stroke-width="3.0" stroke-linecap="butt" fill="none"/><path d="M1069.47 359.10a1.75 1.75 0 1 0 3.5 0a1.75 1.75 0 1 0 -3.5 0M1069.47 348.50a1.75 1.75 0 1 0 3.5 0a1.75 1.75 0 1 0 -3.5 0M1064.64 357.18a1.75 1.75 0 1 0 3.5 0a1.75 1.75 0 1 0 -3.5 0M1074.30 350.42a1.75 1.75 0 1 0 3.5 0a1.75 1.75 0 1 0 -3.5 0M1064.64 350.42a1.75 1.75 0 1 0 3.5 0a1.75 1.75 0 1 0 -3.5 0M1074.30 357.18a1.75 1.75 0 1 0 3.5 0a1.75 1.75 0 1 0 -3.5 0M1084.47 359.10a1.75 1.75 0 1 0 3.5 0a1.75 1.75 0 1 0 -3.5 0M1084.47 348.50a1.75 1.75 0 1 0 3.5 0a1.75 1.75 0 1 0 -3.5 0M1079.64 357.18a1.75 1.75 0 1 0 3.5 0a1.75 1.75 0 1 0 -3.5 0M1089.30 350.42a1.75 1.75 0 1 0 3.5 0a1.75 1.75 0 1 0 -3.5 0M1079.64 350.42a1.75 1.75 0 1 0 3.5 0a1.75 1.75 0 1 0 -3.5 0M1089.30 357.18a1.75 1.75 0 1 0 3.5 0a1.75 1.75 0 1 0 -3.5 0M1099.47 359.10a1.75 1.75 0 1 0 3.5 0a1.75 1.75 0 1 0 -3.5 0M1099.47 348.50a1.75 1.75 0 1 0 3.5 0a1.75 1.75 0 1 0 -3.5 0M1094.64 357.18a1.75 1.75 0 1 0 3.5 0a1.75 1.75 0 1 0 -3.5 0M1104.30 350.42a1.75 1.75 0 1 0 3.5 0a1.75 1.75 0 1 0 -3.5 0M1094.64 350.42a1.75 1.75 0 1 0 3.5 0a1.75 1.75 0 1 0 -3.5 0M1104.30 357.18a1.75 1.75 0 1 0 3.5 0a1.75 1.75 0 1 0 -3.5 0M1114.47 359.10a1.75 1.75 0 1 0 3.5 0a1.75 1.75 0 1 0 -3.5 0M1114.47 348.50a1.75 1.75 0 1 0 3.5 0a1.75 1.75 0 1 0 -3.5 0M1109.64 357.18a1.75 1.75 0 1 0 3.5 0a1.75 1.75 0 1 0 -3.5 0M1119.30 350.42a1.75 1.75 0 1 0 3.5 0a1.75 1.75 0 1 0 -3.5 0M1109.64 350.42a1.75 1.75 0 1 0 3.5 0a1.75 1.75 0 1 0 -3.5 0M1119.30 357.18a1.75 1.75 0 1 0 3.5 0a1.75 1.75 0 1 0 -3.5 0" fill="#000"/>
<path d="M927.4 357.3L927.4 322.3L1315.5 322.3L1315.5 742.3" stroke="#000" stroke-width="2.2" fill="none"/>
<path d="M1098.94 310.10L1098.94 299.50M1094.11 308.18L1103.77 301.42M1094.11 301.42L1103.77 308.18M1113.94 310.10L1113.94 299.50M1109.11 308.18L1118.77 301.42M1109.11 301.42L1118.77 308.18M1128.94 310.10L1128.94 299.50M1124.11 308.18L1133.77 301.42M1124.11 301.42L1133.77 308.18M1143.94 310.10L1143.94 299.50M1139.11 308.18L1148.77 301.42M1139.11 301.42L1148.77 308.18" stroke="#000" stroke-width="3.0" stroke-linecap="butt" fill="none"/><path d="M1097.19 310.10a1.75 1.75 0 1 0 3.5 0a1.75 1.75 0 1 0 -3.5 0M1097.19 299.50a1.75 1.75 0 1 0 3.5 0a1.75 1.75 0 1 0 -3.5 0M1092.36 308.18a1.75 1.75 0 1 0 3.5 0a1.75 1.75 0 1 0 -3.5 0M1102.02 301.42a1.75 1.75 0 1 0 3.5 0a1.75 1.75 0 1 0 -3.5 0M1092.36 301.42a1.75 1.75 0 1 0 3.5 0a1.75 1.75 0 1 0 -3.5 0M1102.02 308.18a1.75 1.75 0 1 0 3.5 0a1.75 1.75 0 1 0 -3.5 0M1112.19 310.10a1.75 1.75 0 1 0 3.5 0a1.75 1.75 0 1 0 -3.5 0M1112.19 299.50a1.75 1.75 0 1 0 3.5 0a1.75 1.75 0 1 0 -3.5 0M1107.36 308.18a1.75 1.75 0 1 0 3.5 0a1.75 1.75 0 1 0 -3.5 0M1117.02 301.42a1.75 1.75 0 1 0 3.5 0a1.75 1.75 0 1 0 -3.5 0M1107.36 301.42a1.75 1.75 0 1 0 3.5 0a1.75 1.75 0 1 0 -3.5 0M1117.02 308.18a1.75 1.75 0 1 0 3.5 0a1.75 1.75 0 1 0 -3.5 0M1127.19 310.10a1.75 1.75 0 1 0 3.5 0a1.75 1.75 0 1 0 -3.5 0M1127.19 299.50a1.75 1.75 0 1 0 3.5 0a1.75 1.75 0 1 0 -3.5 0M1122.36 308.18a1.75 1.75 0 1 0 3.5 0a1.75 1.75 0 1 0 -3.5 0M1132.02 301.42a1.75 1.75 0 1 0 3.5 0a1.75 1.75 0 1 0 -3.5 0M1122.36 301.42a1.75 1.75 0 1 0 3.5 0a1.75 1.75 0 1 0 -3.5 0M1132.02 308.18a1.75 1.75 0 1 0 3.5 0a1.75 1.75 0 1 0 -3.5 0M1142.19 310.10a1.75 1.75 0 1 0 3.5 0a1.75 1.75 0 1 0 -3.5 0M1142.19 299.50a1.75 1.75 0 1 0 3.5 0a1.75 1.75 0 1 0 -3.5 0M1137.36 308.18a1.75 1.75 0 1 0 3.5 0a1.75 1.75 0 1 0 -3.5 0M1147.02 301.42a1.75 1.75 0 1 0 3.5 0a1.75 1.75 0 1 0 -3.5 0M1137.36 301.42a1.75 1.75 0 1 0 3.5 0a1.75 1.75 0 1 0 -3.5 0M1147.02 308.18a1.75 1.75 0 1 0 3.5 0a1.75 1.75 0 1 0 -3.5 0" fill="#000"/>
<path d="M927.4 308.3L927.4 273.8L1370.9 273.8L1370.9 805.5" stroke="#000" stroke-width="2.2" fill="none"/>
<path d="M1126.66 261.60L1126.66 251.00M1121.83 259.68L1131.49 252.92M1121.83 252.92L1131.49 259.68M1141.66 261.60L1141.66 251.00M1136.83 259.68L1146.49 252.92M1136.83 252.92L1146.49 259.68M1156.66 261.60L1156.66 251.00M1151.83 259.68L1161.49 252.92M1151.83 252.92L1161.49 259.68M1171.66 261.60L1171.66 251.00M1166.83 259.68L1176.49 252.92M1166.83 252.92L1176.49 259.68" stroke="#000" stroke-width="3.0" stroke-linecap="butt" fill="none"/><path d="M1124.91 261.60a1.75 1.75 0 1 0 3.5 0a1.75 1.75 0 1 0 -3.5 0M1124.91 251.00a1.75 1.75 0 1 0 3.5 0a1.75 1.75 0 1 0 -3.5 0M1120.08 259.68a1.75 1.75 0 1 0 3.5 0a1.75 1.75 0 1 0 -3.5 0M1129.74 252.92a1.75 1.75 0 1 0 3.5 0a1.75 1.75 0 1 0 -3.5 0M1120.08 252.92a1.75 1.75 0 1 0 3.5 0a1.75 1.75 0 1 0 -3.5 0M1129.74 259.68a1.75 1.75 0 1 0 3.5 0a1.75 1.75 0 1 0 -3.5 0M1139.91 261.60a1.75 1.75 0 1 0 3.5 0a1.75 1.75 0 1 0 -3.5 0M1139.91 251.00a1.75 1.75 0 1 0 3.5 0a1.75 1.75 0 1 0 -3.5 0M1135.08 259.68a1.75 1.75 0 1 0 3.5 0a1.75 1.75 0 1 0 -3.5 0M1144.74 252.92a1.75 1.75 0 1 0 3.5 0a1.75 1.75 0 1 0 -3.5 0M1135.08 252.92a1.75 1.75 0 1 0 3.5 0a1.75 1.75 0 1 0 -3.5 0M1144.74 259.68a1.75 1.75 0 1 0 3.5 0a1.75 1.75 0 1 0 -3.5 0M1154.91 261.60a1.75 1.75 0 1 0 3.5 0a1.75 1.75 0 1 0 -3.5 0M1154.91 251.00a1.75 1.75 0 1 0 3.5 0a1.75 1.75 0 1 0 -3.5 0M1150.08 259.68a1.75 1.75 0 1 0 3.5 0a1.75 1.75 0 1 0 -3.5 0M1159.74 252.92a1.75 1.75 0 1 0 3.5 0a1.75 1.75 0 1 0 -3.5 0M1150.08 252.92a1.75 1.75 0 1 0 3.5 0a1.75 1.75 0 1 0 -3.5 0M1159.74 259.68a1.75 1.75 0 1 0 3.5 0a1.75 1.75 0 1 0 -3.5 0M1169.91 261.60a1.75 1.75 0 1 0 3.5 0a1.75 1.75 0 1 0 -3.5 0M1169.91 251.00a1.75 1.75 0 1 0 3.5 0a1.75 1.75 0 1 0 -3.5 0M1165.08 259.68a1.75 1.75 0 1 0 3.5 0a1.75 1.75 0 1 0 -3.5 0M1174.74 252.92a1.75 1.75 0 1 0 3.5 0a1.75 1.75 0 1 0 -3.5 0M1165.08 252.92a1.75 1.75 0 1 0 3.5 0a1.75 1.75 0 1 0 -3.5 0M1174.74 259.68a1.75 1.75 0 1 0 3.5 0a1.75 1.75 0 1 0 -3.5 0" fill="#000"/>
<path d="M927.4 259.8L927.4 224.8L1426.4 224.8L1426.4 805.5" stroke="#000" stroke-width="2.2" fill="none"/>
<path d="M1154.38 212.60L1154.38 202.00M1149.55 210.68L1159.21 203.92M1149.55 203.92L1159.21 210.68M1169.38 212.60L1169.38 202.00M1164.55 210.68L1174.21 203.92M1164.55 203.92L1174.21 210.68M1184.38 212.60L1184.38 202.00M1179.55 210.68L1189.21 203.92M1179.55 203.92L1189.21 210.68M1199.38 212.60L1199.38 202.00M1194.55 210.68L1204.21 203.92M1194.55 203.92L1204.21 210.68" stroke="#000" stroke-width="3.0" stroke-linecap="butt" fill="none"/><path d="M1152.63 212.60a1.75 1.75 0 1 0 3.5 0a1.75 1.75 0 1 0 -3.5 0M1152.63 202.00a1.75 1.75 0 1 0 3.5 0a1.75 1.75 0 1 0 -3.5 0M1147.80 210.68a1.75 1.75 0 1 0 3.5 0a1.75 1.75 0 1 0 -3.5 0M1157.46 203.92a1.75 1.75 0 1 0 3.5 0a1.75 1.75 0 1 0 -3.5 0M1147.80 203.92a1.75 1.75 0 1 0 3.5 0a1.75 1.75 0 1 0 -3.5 0M1157.46 210.68a1.75 1.75 0 1 0 3.5 0a1.75 1.75 0 1 0 -3.5 0M1167.63 212.60a1.75 1.75 0 1 0 3.5 0a1.75 1.75 0 1 0 -3.5 0M1167.63 202.00a1.75 1.75 0 1 0 3.5 0a1.75 1.75 0 1 0 -3.5 0M1162.80 210.68a1.75 1.75 0 1 0 3.5 0a1.75 1.75 0 1 0 -3.5 0M1172.46 203.92a1.75 1.75 0 1 0 3.5 0a1.75 1.75 0 1 0 -3.5 0M1162.80 203.92a1.75 1.75 0 1 0 3.5 0a1.75 1.75 0 1 0 -3.5 0M1172.46 210.68a1.75 1.75 0 1 0 3.5 0a1.75 1.75 0 1 0 -3.5 0M1182.63 212.60a1.75 1.75 0 1 0 3.5 0a1.75 1.75 0 1 0 -3.5 0M1182.63 202.00a1.75 1.75 0 1 0 3.5 0a1.75 1.75 0 1 0 -3.5 0M1177.80 210.68a1.75 1.75 0 1 0 3.5 0a1.75 1.75 0 1 0 -3.5 0M1187.46 203.92a1.75 1.75 0 1 0 3.5 0a1.75 1.75 0 1 0 -3.5 0M1177.80 203.92a1.75 1.75 0 1 0 3.5 0a1.75 1.75 0 1 0 -3.5 0M1187.46 210.68a1.75 1.75 0 1 0 3.5 0a1.75 1.75 0 1 0 -3.5 0M1197.63 212.60a1.75 1.75 0 1 0 3.5 0a1.75 1.75 0 1 0 -3.5 0M1197.63 202.00a1.75 1.75 0 1 0 3.5 0a1.75 1.75 0 1 0 -3.5 0M1192.80 210.68a1.75 1.75 0 1 0 3.5 0a1.75 1.75 0 1 0 -3.5 0M1202.46 203.92a1.75 1.75 0 1 0 3.5 0a1.75 1.75 0 1 0 -3.5 0M1192.80 203.92a1.75 1.75 0 1 0 3.5 0a1.75 1.75 0 1 0 -3.5 0M1202.46 210.68a1.75 1.75 0 1 0 3.5 0a1.75 1.75 0 1 0 -3.5 0" fill="#000"/>
<text transform="translate(54.6,1987.7) rotate(-90)" font-family="Liberation Sans, sans-serif" font-size="35.45" text-anchor="middle">OD 570 nm (normalized on t0)</text>
<line x1="105.5" y1="2193.9" x2="113.0" y2="2193.9" stroke="#000" stroke-width="2.2"/>
<text x="101.5" y="2200.5" font-family="Liberation Sans, sans-serif" font-weight="bold" font-size="18.5" text-anchor="end">0.0</text>
<line x1="105.5" y1="2066.7" x2="113.0" y2="2066.7" stroke="#000" stroke-width="2.2"/>
<text x="101.5" y="2073.3" font-family="Liberation Sans, sans-serif" font-weight="bold" font-size="18.5" text-anchor="end">0.5</text>
<line x1="105.5" y1="1939.5" x2="113.0" y2="1939.5" stroke="#000" stroke-width="2.2"/>
<text x="101.5" y="1946.1" font-family="Liberation Sans, sans-serif" font-weight="bold" font-size="18.5" text-anchor="end">1.0</text>
<line x1="105.5" y1="1812.3" x2="113.0" y2="1812.3" stroke="#000" stroke-width="2.2"/>
<text x="101.5" y="1818.9" font-family="Liberation Sans, sans-serif" font-weight="bold" font-size="18.5" text-anchor="end">1.5</text>
<line x1="149.4" y1="1851.7" x2="149.4" y2="1857.4" stroke="#000" stroke-width="1.9"/>
<line x1="140.2" y1="1851.7" x2="158.6" y2="1851.7" stroke="#000" stroke-width="1.9"/>
<rect x="132.3" y="1857.4" width="34.2" height="336.5" fill="#d9d9d9" stroke="#000" stroke-width="2.3"/>
<rect x="134.6" y="1859.7" width="29.6" height="334.2" fill="none" stroke="#f4f4f4" stroke-width="1.2"/>
<line x1="204.8" y1="1877.3" x2="204.8" y2="1886.3" stroke="#000" stroke-width="1.9"/>
<line x1="195.6" y1="1877.3" x2="214.0" y2="1877.3" stroke="#000" stroke-width="1.9"/>
<rect x="187.7" y="1886.3" width="34.2" height="307.6" fill="#8e8e8e" stroke="#000" stroke-width="2.3"/>
<rect x="190.0" y="1888.6" width="29.6" height="305.3" fill="none" stroke="#aaaaaa" stroke-width="1.2"/>
<line x1="260.2" y1="1894.4" x2="260.2" y2="1902.5" stroke="#000" stroke-width="1.9"/>
<line x1="251.0" y1="1894.4" x2="269.4" y2="1894.4" stroke="#000" stroke-width="1.9"/>
<rect x="243.1" y="1902.5" width="34.2" height="291.4" fill="#ffffff" stroke="#000" stroke-width="2.3"/>
<line x1="315.7" y1="2047.7" x2="315.7" y2="2057.2" stroke="#000" stroke-width="1.9"/>
<line x1="306.5" y1="2047.7" x2="324.9" y2="2047.7" stroke="#000" stroke-width="1.9"/>
<rect x="298.6" y="2057.2" width="34.2" height="136.7" fill="#2233ff" stroke="#000" stroke-width="2.3"/>
<rect x="300.9" y="2059.5" width="29.6" height="134.4" fill="none" stroke="#3344ff" stroke-width="1.2"/>
<line x1="371.1" y1="1882.0" x2="371.1" y2="1888.2" stroke="#000" stroke-width="1.9"/>
<line x1="361.9" y1="1882.0" x2="380.3" y2="1882.0" stroke="#000" stroke-width="1.9"/>
<rect x="354.0" y="1888.2" width="34.2" height="305.7" fill="#d2f5e4" stroke="#000" stroke-width="2.3"/>
<rect x="356.3" y="1890.5" width="29.6" height="303.4" fill="none" stroke="#e6fbf1" stroke-width="1.2"/>
<line x1="426.5" y1="1909.6" x2="426.5" y2="1914.3" stroke="#000" stroke-width="1.9"/>
<line x1="417.3" y1="1909.6" x2="435.7" y2="1909.6" stroke="#000" stroke-width="1.9"/>
<rect x="409.4" y="1914.3" width="34.2" height="279.6" fill="#2233ff" stroke="#000" stroke-width="2.3"/>
<rect x="411.7" y="1916.6" width="29.6" height="277.3" fill="none" stroke="#3344ff" stroke-width="1.2"/>
<line x1="481.9" y1="1925.3" x2="481.9" y2="1950.4" stroke="#000" stroke-width="1.9"/>
<line x1="472.7" y1="1925.3" x2="491.1" y2="1925.3" stroke="#000" stroke-width="1.9"/>
<rect x="464.8" y="1950.4" width="34.2" height="243.5" fill="url(#hatchW)" stroke="#000" stroke-width="2.3"/>
<line x1="537.3" y1="1870.7" x2="537.3" y2="1876.4" stroke="#000" stroke-width="1.9"/>
<line x1="528.1" y1="1870.7" x2="546.5" y2="1870.7" stroke="#000" stroke-width="1.9"/>
<rect x="520.2" y="1876.4" width="34.2" height="317.5" fill="#fff833" stroke="#000" stroke-width="2.3"/>
<line x1="592.8" y1="1876.9" x2="592.8" y2="1883.0" stroke="#000" stroke-width="1.9"/>
<line x1="583.6" y1="1876.9" x2="602.0" y2="1876.9" stroke="#000" stroke-width="1.9"/>
<rect x="575.7" y="1883.0" width="34.2" height="310.9" fill="#1f2ec4" stroke="#000" stroke-width="2.3"/>
<rect x="578.0" y="1885.3" width="29.6" height="308.6" fill="none" stroke="#2a38d0" stroke-width="1.2"/>
<line x1="648.2" y1="1944.7" x2="648.2" y2="1951.4" stroke="#000" stroke-width="1.9"/>
<line x1="639.0" y1="1944.7" x2="657.4" y2="1944.7" stroke="#000" stroke-width="1.9"/>
<rect x="631.1" y="1951.4" width="34.2" height="242.5" fill="url(#hatchY)" stroke="#000" stroke-width="2.3"/>
<path d="M113.0 1811.3L113.0 2193.9L685.0 2193.9" stroke="#000" stroke-width="2.4" fill="none"/>
<text transform="translate(155.0,2196.2) rotate(-90)" font-family="Liberation Sans, sans-serif" font-weight="bold" font-size="18.4" text-anchor="end">NT--&gt;NT</text>
<text transform="translate(210.4,2196.2) rotate(-90)" font-family="Liberation Sans, sans-serif" font-weight="bold" font-size="18.4" text-anchor="end">DMSO--&gt;DMSO</text>
<text transform="translate(265.8,2196.2) rotate(-90)" font-family="Liberation Sans, sans-serif" font-weight="bold" font-size="18.4" text-anchor="end">EtOH--&gt;EtOH</text>
<text transform="translate(321.3,2196.2) rotate(-90)" font-family="Liberation Sans, sans-serif" font-weight="bold" font-size="18.4" text-anchor="end">DOXO--&gt;DOXO</text>
<text transform="translate(376.7,2196.2) rotate(-90)" font-family="Liberation Sans, sans-serif" font-weight="bold" font-size="18.4" text-anchor="end">HyT--&gt;HyT</text>
<text transform="translate(432.1,2196.2) rotate(-90)" font-family="Liberation Sans, sans-serif" font-weight="bold" font-size="18.4" text-anchor="end">HyT--&gt;DOXO</text>
<text transform="translate(487.5,2196.2) rotate(-90)" font-family="Liberation Sans, sans-serif" font-weight="bold" font-size="18.4" text-anchor="end">HyT--&gt;HyT+DOXO</text>
<text transform="translate(542.9,2196.2) rotate(-90)" font-family="Liberation Sans, sans-serif" font-weight="bold" font-size="18.4" text-anchor="end">A009--&gt;A009</text>
<text transform="translate(598.4,2196.2) rotate(-90)" font-family="Liberation Sans, sans-serif" font-weight="bold" font-size="18.4" text-anchor="end">A009--&gt;DOXO</text>
<text transform="translate(653.8,2196.2) rotate(-90)" font-family="Liberation Sans, sans-serif" font-weight="bold" font-size="18.4" text-anchor="end">A009--&gt;A009+DOXO</text>
<path d="M149.4 1837.7L149.4 1822.5L204.8 1822.5L204.8 1863.3" stroke="#000" stroke-width="2.2" fill="none"/>
<text x="177.1" y="1809.5" font-family="Liberation Sans, sans-serif" font-size="20" text-anchor="middle">ns</text>
<path d="M149.4 1808.5L149.4 1770.0L260.2 1770.0L260.2 1880.4" stroke="#000" stroke-width="2.2" fill="none"/>
<path d="M197.32 1757.80L197.32 1747.20M192.49 1755.88L202.15 1749.12M192.49 1749.12L202.15 1755.88M212.32 1757.80L212.32 1747.20M207.49 1755.88L217.15 1749.12M207.49 1749.12L217.15 1755.88" stroke="#000" stroke-width="3.0" stroke-linecap="butt" fill="none"/><path d="M195.57 1757.80a1.75 1.75 0 1 0 3.5 0a1.75 1.75 0 1 0 -3.5 0M195.57 1747.20a1.75 1.75 0 1 0 3.5 0a1.75 1.75 0 1 0 -3.5 0M190.74 1755.88a1.75 1.75 0 1 0 3.5 0a1.75 1.75 0 1 0 -3.5 0M200.40 1749.12a1.75 1.75 0 1 0 3.5 0a1.75 1.75 0 1 0 -3.5 0M190.74 1749.12a1.75 1.75 0 1 0 3.5 0a1.75 1.75 0 1 0 -3.5 0M200.40 1755.88a1.75 1.75 0 1 0 3.5 0a1.75 1.75 0 1 0 -3.5 0M210.57 1757.80a1.75 1.75 0 1 0 3.5 0a1.75 1.75 0 1 0 -3.5 0M210.57 1747.20a1.75 1.75 0 1 0 3.5 0a1.75 1.75 0 1 0 -3.5 0M205.74 1755.88a1.75 1.75 0 1 0 3.5 0a1.75 1.75 0 1 0 -3.5 0M215.40 1749.12a1.75 1.75 0 1 0 3.5 0a1.75 1.75 0 1 0 -3.5 0M205.74 1749.12a1.75 1.75 0 1 0 3.5 0a1.75 1.75 0 1 0 -3.5 0M215.40 1755.88a1.75 1.75 0 1 0 3.5 0a1.75 1.75 0 1 0 -3.5 0" fill="#000"/>
<path d="M149.4 1756.0L149.4 1721.6L315.7 1721.6L315.7 2033.7" stroke="#000" stroke-width="2.2" fill="none"/>
<path d="M210.03 1709.40L210.03 1698.80M205.20 1707.48L214.86 1700.72M205.20 1700.72L214.86 1707.48M225.03 1709.40L225.03 1698.80M220.20 1707.48L229.86 1700.72M220.20 1700.72L229.86 1707.48M240.03 1709.40L240.03 1698.80M235.20 1707.48L244.86 1700.72M235.20 1700.72L244.86 1707.48M255.03 1709.40L255.03 1698.80M250.20 1707.48L259.86 1700.72M250.20 1700.72L259.86 1707.48" stroke="#000" stroke-width="3.0" stroke-linecap="butt" fill="none"/><path d="M208.28 1709.40a1.75 1.75 0 1 0 3.5 0a1.75 1.75 0 1 0 -3.5 0M208.28 1698.80a1.75 1.75 0 1 0 3.5 0a1.75 1.75 0 1 0 -3.5 0M203.45 1707.48a1.75 1.75 0 1 0 3.5 0a1.75 1.75 0 1 0 -3.5 0M213.11 1700.72a1.75 1.75 0 1 0 3.5 0a1.75 1.75 0 1 0 -3.5 0M203.45 1700.72a1.75 1.75 0 1 0 3.5 0a1.75 1.75 0 1 0 -3.5 0M213.11 1707.48a1.75 1.75 0 1 0 3.5 0a1.75 1.75 0 1 0 -3.5 0M223.28 1709.40a1.75 1.75 0 1 0 3.5 0a1.75 1.75 0 1 0 -3.5 0M223.28 1698.80a1.75 1.75 0 1 0 3.5 0a1.75 1.75 0 1 0 -3.5 0M218.45 1707.48a1.75 1.75 0 1 0 3.5 0a1.75 1.75 0 1 0 -3.5 0M228.11 1700.72a1.75 1.75 0 1 0 3.5 0a1.75 1.75 0 1 0 -3.5 0M218.45 1700.72a1.75 1.75 0 1 0 3.5 0a1.75 1.75 0 1 0 -3.5 0M228.11 1707.48a1.75 1.75 0 1 0 3.5 0a1.75 1.75 0 1 0 -3.5 0M238.28 1709.40a1.75 1.75 0 1 0 3.5 0a1.75 1.75 0 1 0 -3.5 0M238.28 1698.80a1.75 1.75 0 1 0 3.5 0a1.75 1.75 0 1 0 -3.5 0M233.45 1707.48a1.75 1.75 0 1 0 3.5 0a1.75 1.75 0 1 0 -3.5 0M243.11 1700.72a1.75 1.75 0 1 0 3.5 0a1.75 1.75 0 1 0 -3.5 0M233.45 1700.72a1.75 1.75 0 1 0 3.5 0a1.75 1.75 0 1 0 -3.5 0M243.11 1707.48a1.75 1.75 0 1 0 3.5 0a1.75 1.75 0 1 0 -3.5 0M253.28 1709.40a1.75 1.75 0 1 0 3.5 0a1.75 1.75 0 1 0 -3.5 0M253.28 1698.80a1.75 1.75 0 1 0 3.5 0a1.75 1.75 0 1 0 -3.5 0M248.45 1707.48a1.75 1.75 0 1 0 3.5 0a1.75 1.75 0 1 0 -3.5 0M258.11 1700.72a1.75 1.75 0 1 0 3.5 0a1.75 1.75 0 1 0 -3.5 0M248.45 1700.72a1.75 1.75 0 1 0 3.5 0a1.75 1.75 0 1 0 -3.5 0M258.11 1707.48a1.75 1.75 0 1 0 3.5 0a1.75 1.75 0 1 0 -3.5 0" fill="#000"/>
<path d="M149.4 1707.6L149.4 1672.7L371.1 1672.7L371.1 1868.0" stroke="#000" stroke-width="2.2" fill="none"/>
<text x="260.2" y="1659.7" font-family="Liberation Sans, sans-serif" font-size="20" text-anchor="middle">ns</text>
<path d="M149.4 1658.7L149.4 1620.0L426.5 1620.0L426.5 1895.6" stroke="#000" stroke-width="2.2" fill="none"/>
<path d="M265.45 1607.80L265.45 1597.20M260.62 1605.88L270.28 1599.12M260.62 1599.12L270.28 1605.88M280.45 1607.80L280.45 1597.20M275.62 1605.88L285.28 1599.12M275.62 1599.12L285.28 1605.88M295.45 1607.80L295.45 1597.20M290.62 1605.88L300.28 1599.12M290.62 1599.12L300.28 1605.88M310.45 1607.80L310.45 1597.20M305.62 1605.88L315.28 1599.12M305.62 1599.12L315.28 1605.88" stroke="#000" stroke-width="3.0" stroke-linecap="butt" fill="none"/><path d="M263.70 1607.80a1.75 1.75 0 1 0 3.5 0a1.75 1.75 0 1 0 -3.5 0M263.70 1597.20a1.75 1.75 0 1 0 3.5 0a1.75 1.75 0 1 0 -3.5 0M258.87 1605.88a1.75 1.75 0 1 0 3.5 0a1.75 1.75 0 1 0 -3.5 0M268.53 1599.12a1.75 1.75 0 1 0 3.5 0a1.75 1.75 0 1 0 -3.5 0M258.87 1599.12a1.75 1.75 0 1 0 3.5 0a1.75 1.75 0 1 0 -3.5 0M268.53 1605.88a1.75 1.75 0 1 0 3.5 0a1.75 1.75 0 1 0 -3.5 0M278.70 1607.80a1.75 1.75 0 1 0 3.5 0a1.75 1.75 0 1 0 -3.5 0M278.70 1597.20a1.75 1.75 0 1 0 3.5 0a1.75 1.75 0 1 0 -3.5 0M273.87 1605.88a1.75 1.75 0 1 0 3.5 0a1.75 1.75 0 1 0 -3.5 0M283.53 1599.12a1.75 1.75 0 1 0 3.5 0a1.75 1.75 0 1 0 -3.5 0M273.87 1599.12a1.75 1.75 0 1 0 3.5 0a1.75 1.75 0 1 0 -3.5 0M283.53 1605.88a1.75 1.75 0 1 0 3.5 0a1.75 1.75 0 1 0 -3.5 0M293.70 1607.80a1.75 1.75 0 1 0 3.5 0a1.75 1.75 0 1 0 -3.5 0M293.70 1597.20a1.75 1.75 0 1 0 3.5 0a1.75 1.75 0 1 0 -3.5 0M288.87 1605.88a1.75 1.75 0 1 0 3.5 0a1.75 1.75 0 1 0 -3.5 0M298.53 1599.12a1.75 1.75 0 1 0 3.5 0a1.75 1.75 0 1 0 -3.5 0M288.87 1599.12a1.75 1.75 0 1 0 3.5 0a1.75 1.75 0 1 0 -3.5 0M298.53 1605.88a1.75 1.75 0 1 0 3.5 0a1.75 1.75 0 1 0 -3.5 0M308.70 1607.80a1.75 1.75 0 1 0 3.5 0a1.75 1.75 0 1 0 -3.5 0M308.70 1597.20a1.75 1.75 0 1 0 3.5 0a1.75 1.75 0 1 0 -3.5 0M303.87 1605.88a1.75 1.75 0 1 0 3.5 0a1.75 1.75 0 1 0 -3.5 0M313.53 1599.12a1.75 1.75 0 1 0 3.5 0a1.75 1.75 0 1 0 -3.5 0M303.87 1599.12a1.75 1.75 0 1 0 3.5 0a1.75 1.75 0 1 0 -3.5 0M313.53 1605.88a1.75 1.75 0 1 0 3.5 0a1.75 1.75 0 1 0 -3.5 0" fill="#000"/>
<path d="M149.4 1606.0L149.4 1571.6L481.9 1571.6L481.9 1911.3" stroke="#000" stroke-width="2.2" fill="none"/>
<path d="M293.16 1559.40L293.16 1548.80M288.33 1557.48L297.99 1550.72M288.33 1550.72L297.99 1557.48M308.16 1559.40L308.16 1548.80M303.33 1557.48L312.99 1550.72M303.33 1550.72L312.99 1557.48M323.16 1559.40L323.16 1548.80M318.33 1557.48L327.99 1550.72M318.33 1550.72L327.99 1557.48M338.16 1559.40L338.16 1548.80M333.33 1557.48L342.99 1550.72M333.33 1550.72L342.99 1557.48" stroke="#000" stroke-width="3.0" stroke-linecap="butt" fill="none"/><path d="M291.41 1559.40a1.75 1.75 0 1 0 3.5 0a1.75 1.75 0 1 0 -3.5 0M291.41 1548.80a1.75 1.75 0 1 0 3.5 0a1.75 1.75 0 1 0 -3.5 0M286.58 1557.48a1.75 1.75 0 1 0 3.5 0a1.75 1.75 0 1 0 -3.5 0M296.24 1550.72a1.75 1.75 0 1 0 3.5 0a1.75 1.75 0 1 0 -3.5 0M286.58 1550.72a1.75 1.75 0 1 0 3.5 0a1.75 1.75 0 1 0 -3.5 0M296.24 1557.48a1.75 1.75 0 1 0 3.5 0a1.75 1.75 0 1 0 -3.5 0M306.41 1559.40a1.75 1.75 0 1 0 3.5 0a1.75 1.75 0 1 0 -3.5 0M306.41 1548.80a1.75 1.75 0 1 0 3.5 0a1.75 1.75 0 1 0 -3.5 0M301.58 1557.48a1.75 1.75 0 1 0 3.5 0a1.75 1.75 0 1 0 -3.5 0M311.24 1550.72a1.75 1.75 0 1 0 3.5 0a1.75 1.75 0 1 0 -3.5 0M301.58 1550.72a1.75 1.75 0 1 0 3.5 0a1.75 1.75 0 1 0 -3.5 0M311.24 1557.48a1.75 1.75 0 1 0 3.5 0a1.75 1.75 0 1 0 -3.5 0M321.41 1559.40a1.75 1.75 0 1 0 3.5 0a1.75 1.75 0 1 0 -3.5 0M321.41 1548.80a1.75 1.75 0 1 0 3.5 0a1.75 1.75 0 1 0 -3.5 0M316.58 1557.48a1.75 1.75 0 1 0 3.5 0a1.75 1.75 0 1 0 -3.5 0M326.24 1550.72a1.75 1.75 0 1 0 3.5 0a1.75 1.75 0 1 0 -3.5 0M316.58 1550.72a1.75 1.75 0 1 0 3.5 0a1.75 1.75 0 1 0 -3.5 0M326.24 1557.48a1.75 1.75 0 1 0 3.5 0a1.75 1.75 0 1 0 -3.5 0M336.41 1559.40a1.75 1.75 0 1 0 3.5 0a1.75 1.75 0 1 0 -3.5 0M336.41 1548.80a1.75 1.75 0 1 0 3.5 0a1.75 1.75 0 1 0 -3.5 0M331.58 1557.48a1.75 1.75 0 1 0 3.5 0a1.75 1.75 0 1 0 -3.5 0M341.24 1550.72a1.75 1.75 0 1 0 3.5 0a1.75 1.75 0 1 0 -3.5 0M331.58 1550.72a1.75 1.75 0 1 0 3.5 0a1.75 1.75 0 1 0 -3.5 0M341.24 1557.48a1.75 1.75 0 1 0 3.5 0a1.75 1.75 0 1 0 -3.5 0" fill="#000"/>
<path d="M149.4 1557.6L149.4 1522.7L537.3 1522.7L537.3 1856.7" stroke="#000" stroke-width="2.2" fill="none"/>
<text x="343.4" y="1509.7" font-family="Liberation Sans, sans-serif" font-size="20" text-anchor="middle">ns</text>
<path d="M149.4 1508.7L149.4 1470.0L592.8 1470.0L592.8 1862.9" stroke="#000" stroke-width="2.2" fill="none"/>
<text x="371.1" y="1457.0" font-family="Liberation Sans, sans-serif" font-size="20" text-anchor="middle">ns</text>
<path d="M149.4 1456.0L149.4 1417.4L648.2 1417.4L648.2 1930.7" stroke="#000" stroke-width="2.2" fill="none"/>
<path d="M376.29 1405.20L376.29 1394.60M371.46 1403.28L381.12 1396.52M371.46 1396.52L381.12 1403.28M391.29 1405.20L391.29 1394.60M386.46 1403.28L396.12 1396.52M386.46 1396.52L396.12 1403.28M406.29 1405.20L406.29 1394.60M401.46 1403.28L411.12 1396.52M401.46 1396.52L411.12 1403.28M421.29 1405.20L421.29 1394.60M416.46 1403.28L426.12 1396.52M416.46 1396.52L426.12 1403.28" stroke="#000" stroke-width="3.0" stroke-linecap="butt" fill="none"/><path d="M374.54 1405.20a1.75 1.75 0 1 0 3.5 0a1.75 1.75 0 1 0 -3.5 0M374.54 1394.60a1.75 1.75 0 1 0 3.5 0a1.75 1.75 0 1 0 -3.5 0M369.71 1403.28a1.75 1.75 0 1 0 3.5 0a1.75 1.75 0 1 0 -3.5 0M379.37 1396.52a1.75 1.75 0 1 0 3.5 0a1.75 1.75 0 1 0 -3.5 0M369.71 1396.52a1.75 1.75 0 1 0 3.5 0a1.75 1.75 0 1 0 -3.5 0M379.37 1403.28a1.75 1.75 0 1 0 3.5 0a1.75 1.75 0 1 0 -3.5 0M389.54 1405.20a1.75 1.75 0 1 0 3.5 0a1.75 1.75 0 1 0 -3.5 0M389.54 1394.60a1.75 1.75 0 1 0 3.5 0a1.75 1.75 0 1 0 -3.5 0M384.71 1403.28a1.75 1.75 0 1 0 3.5 0a1.75 1.75 0 1 0 -3.5 0M394.37 1396.52a1.75 1.75 0 1 0 3.5 0a1.75 1.75 0 1 0 -3.5 0M384.71 1396.52a1.75 1.75 0 1 0 3.5 0a1.75 1.75 0 1 0 -3.5 0M394.37 1403.28a1.75 1.75 0 1 0 3.5 0a1.75 1.75 0 1 0 -3.5 0M404.54 1405.20a1.75 1.75 0 1 0 3.5 0a1.75 1.75 0 1 0 -3.5 0M404.54 1394.60a1.75 1.75 0 1 0 3.5 0a1.75 1.75 0 1 0 -3.5 0M399.71 1403.28a1.75 1.75 0 1 0 3.5 0a1.75 1.75 0 1 0 -3.5 0M409.37 1396.52a1.75 1.75 0 1 0 3.5 0a1.75 1.75 0 1 0 -3.5 0M399.71 1396.52a1.75 1.75 0 1 0 3.5 0a1.75 1.75 0 1 0 -3.5 0M409.37 1403.28a1.75 1.75 0 1 0 3.5 0a1.75 1.75 0 1 0 -3.5 0M419.54 1405.20a1.75 1.75 0 1 0 3.5 0a1.75 1.75 0 1 0 -3.5 0M419.54 1394.60a1.75 1.75 0 1 0 3.5 0a1.75 1.75 0 1 0 -3.5 0M414.71 1403.28a1.75 1.75 0 1 0 3.5 0a1.75 1.75 0 1 0 -3.5 0M424.37 1396.52a1.75 1.75 0 1 0 3.5 0a1.75 1.75 0 1 0 -3.5 0M414.71 1396.52a1.75 1.75 0 1 0 3.5 0a1.75 1.75 0 1 0 -3.5 0M424.37 1403.28a1.75 1.75 0 1 0 3.5 0a1.75 1.75 0 1 0 -3.5 0" fill="#000"/>
<text transform="translate(833.1,1987.7) rotate(-90)" font-family="Liberation Sans, sans-serif" font-size="35.45" text-anchor="middle">OD 570 nm (normalized on t0)</text>
<line x1="884.5" y1="2189.0" x2="892.0" y2="2189.0" stroke="#000" stroke-width="2.2"/>
<text x="880.5" y="2195.6" font-family="Liberation Sans, sans-serif" font-weight="bold" font-size="18.5" text-anchor="end">0</text>
<line x1="884.5" y1="2093.6" x2="892.0" y2="2093.6" stroke="#000" stroke-width="2.2"/>
<text x="880.5" y="2100.2" font-family="Liberation Sans, sans-serif" font-weight="bold" font-size="18.5" text-anchor="end">2</text>
<line x1="884.5" y1="1998.2" x2="892.0" y2="1998.2" stroke="#000" stroke-width="2.2"/>
<text x="880.5" y="2004.8" font-family="Liberation Sans, sans-serif" font-weight="bold" font-size="18.5" text-anchor="end">4</text>
<line x1="884.5" y1="1902.8" x2="892.0" y2="1902.8" stroke="#000" stroke-width="2.2"/>
<text x="880.5" y="1909.4" font-family="Liberation Sans, sans-serif" font-weight="bold" font-size="18.5" text-anchor="end">6</text>
<line x1="884.5" y1="1807.4" x2="892.0" y2="1807.4" stroke="#000" stroke-width="2.2"/>
<text x="880.5" y="1814.0" font-family="Liberation Sans, sans-serif" font-weight="bold" font-size="18.5" text-anchor="end">8</text>
<line x1="928.6" y1="1920.4" x2="928.6" y2="1932.8" stroke="#000" stroke-width="1.9"/>
<line x1="919.4" y1="1920.4" x2="937.8" y2="1920.4" stroke="#000" stroke-width="1.9"/>
<rect x="911.5" y="1932.8" width="34.2" height="256.2" fill="#d9d9d9" stroke="#000" stroke-width="2.3"/>
<rect x="913.8" y="1935.1" width="29.6" height="253.9" fill="none" stroke="#f4f4f4" stroke-width="1.2"/>
<line x1="984.0" y1="1902.6" x2="984.0" y2="1908.1" stroke="#000" stroke-width="1.9"/>
<line x1="974.8" y1="1902.6" x2="993.2" y2="1902.6" stroke="#000" stroke-width="1.9"/>
<rect x="966.9" y="1908.1" width="34.2" height="280.9" fill="#8e8e8e" stroke="#000" stroke-width="2.3"/>
<rect x="969.2" y="1910.4" width="29.6" height="278.6" fill="none" stroke="#aaaaaa" stroke-width="1.2"/>
<line x1="1039.4" y1="1936.0" x2="1039.4" y2="1952.9" stroke="#000" stroke-width="1.9"/>
<line x1="1030.2" y1="1936.0" x2="1048.6" y2="1936.0" stroke="#000" stroke-width="1.9"/>
<rect x="1022.3" y="1952.9" width="34.2" height="236.1" fill="#ffffff" stroke="#000" stroke-width="2.3"/>
<line x1="1094.9" y1="2158.4" x2="1094.9" y2="2159.8" stroke="#000" stroke-width="1.9"/>
<line x1="1085.7" y1="2158.4" x2="1104.1" y2="2158.4" stroke="#000" stroke-width="1.9"/>
<rect x="1077.8" y="2159.8" width="34.2" height="29.2" fill="#2233ff" stroke="#000" stroke-width="2.3"/>
<rect x="1080.1" y="2162.1" width="29.6" height="26.9" fill="none" stroke="#3344ff" stroke-width="1.2"/>
<line x1="1150.3" y1="1951.1" x2="1150.3" y2="1962.1" stroke="#000" stroke-width="1.9"/>
<line x1="1141.1" y1="1951.1" x2="1159.5" y2="1951.1" stroke="#000" stroke-width="1.9"/>
<rect x="1133.2" y="1962.1" width="34.2" height="226.9" fill="#d2f5e4" stroke="#000" stroke-width="2.3"/>
<rect x="1135.5" y="1964.4" width="29.6" height="224.6" fill="none" stroke="#e6fbf1" stroke-width="1.2"/>
<line x1="1205.7" y1="1997.8" x2="1205.7" y2="2004.6" stroke="#000" stroke-width="1.9"/>
<line x1="1196.5" y1="1997.8" x2="1214.9" y2="1997.8" stroke="#000" stroke-width="1.9"/>
<rect x="1188.6" y="2004.6" width="34.2" height="184.4" fill="#2233ff" stroke="#000" stroke-width="2.3"/>
<rect x="1190.9" y="2006.9" width="29.6" height="182.1" fill="none" stroke="#3344ff" stroke-width="1.2"/>
<line x1="1261.1" y1="1967.1" x2="1261.1" y2="1975.8" stroke="#000" stroke-width="1.9"/>
<line x1="1251.9" y1="1967.1" x2="1270.3" y2="1967.1" stroke="#000" stroke-width="1.9"/>
<rect x="1244.0" y="1975.8" width="34.2" height="213.2" fill="url(#hatchW)" stroke="#000" stroke-width="2.3"/>
<line x1="1316.5" y1="1983.1" x2="1316.5" y2="2009.2" stroke="#000" stroke-width="1.9"/>
<line x1="1307.3" y1="1983.1" x2="1325.7" y2="1983.1" stroke="#000" stroke-width="1.9"/>
<rect x="1299.4" y="2009.2" width="34.2" height="179.8" fill="#fff833" stroke="#000" stroke-width="2.3"/>
<line x1="1372.0" y1="2029.3" x2="1372.0" y2="2049.0" stroke="#000" stroke-width="1.9"/>
<line x1="1362.8" y1="2029.3" x2="1381.2" y2="2029.3" stroke="#000" stroke-width="1.9"/>
<rect x="1354.9" y="2049.0" width="34.2" height="140.0" fill="#1f2ec4" stroke="#000" stroke-width="2.3"/>
<rect x="1357.2" y="2051.3" width="29.6" height="137.7" fill="none" stroke="#2a38d0" stroke-width="1.2"/>
<line x1="1427.4" y1="2038.5" x2="1427.4" y2="2057.7" stroke="#000" stroke-width="1.9"/>
<line x1="1418.2" y1="2038.5" x2="1436.6" y2="2038.5" stroke="#000" stroke-width="1.9"/>
<rect x="1410.3" y="2057.7" width="34.2" height="131.3" fill="url(#hatchY)" stroke="#000" stroke-width="2.3"/>
<path d="M892.0 1806.4L892.0 2189.0L1463.5 2189.0" stroke="#000" stroke-width="2.4" fill="none"/>
<text transform="translate(934.2,2191.3) rotate(-90)" font-family="Liberation Sans, sans-serif" font-weight="bold" font-size="18.4" text-anchor="end">NT--&gt;NT</text>
<text transform="translate(989.6,2191.3) rotate(-90)" font-family="Liberation Sans, sans-serif" font-weight="bold" font-size="18.4" text-anchor="end">DMSO--&gt;DMSO</text>
<text transform="translate(1045.0,2191.3) rotate(-90)" font-family="Liberation Sans, sans-serif" font-weight="bold" font-size="18.4" text-anchor="end">EtOH--&gt;EtOH</text>
<text transform="translate(1100.5,2191.3) rotate(-90)" font-family="Liberation Sans, sans-serif" font-weight="bold" font-size="18.4" text-anchor="end">DOXO--&gt;DOXO</text>
<text transform="translate(1155.9,2191.3) rotate(-90)" font-family="Liberation Sans, sans-serif" font-weight="bold" font-size="18.4" text-anchor="end">HyT--&gt;HyT</text>
<text transform="translate(1211.3,2191.3) rotate(-90)" font-family="Liberation Sans, sans-serif" font-weight="bold" font-size="18.4" text-anchor="end">HyT--&gt;DOXO</text>
<text transform="translate(1266.7,2191.3) rotate(-90)" font-family="Liberation Sans, sans-serif" font-weight="bold" font-size="18.4" text-anchor="end">HyT--&gt;HyT+DOXO</text>
<text transform="translate(1322.1,2191.3) rotate(-90)" font-family="Liberation Sans, sans-serif" font-weight="bold" font-size="18.4" text-anchor="end">A009--&gt;A009</text>
<text transform="translate(1377.6,2191.3) rotate(-90)" font-family="Liberation Sans, sans-serif" font-weight="bold" font-size="18.4" text-anchor="end">A009--&gt;DOXO</text>
<text transform="translate(1433.0,2191.3) rotate(-90)" font-family="Liberation Sans, sans-serif" font-weight="bold" font-size="18.4" text-anchor="end">LA009-&gt;A009+DOXO</text>
<path d="M928.6 1906.4L928.6 1873.7L984.0 1873.7L984.0 1888.6" stroke="#000" stroke-width="2.2" fill="none"/>
<text x="956.3" y="1860.7" font-family="Liberation Sans, sans-serif" font-size="20" text-anchor="middle">ns</text>
<path d="M928.6 1859.7L928.6 1821.4L1039.4 1821.4L1039.4 1922.0" stroke="#000" stroke-width="2.2" fill="none"/>
<text x="984.0" y="1808.4" font-family="Liberation Sans, sans-serif" font-size="20" text-anchor="middle">ns</text>
<path d="M928.6 1807.4L928.6 1768.6L1094.9 1768.6L1094.9 2144.4" stroke="#000" stroke-width="2.2" fill="none"/>
<path d="M1004.23 1756.40L1004.23 1745.80M999.40 1754.48L1009.06 1747.72M999.40 1747.72L1009.06 1754.48M1019.23 1756.40L1019.23 1745.80M1014.40 1754.48L1024.06 1747.72M1014.40 1747.72L1024.06 1754.48" stroke="#000" stroke-width="3.0" stroke-linecap="butt" fill="none"/><path d="M1002.48 1756.40a1.75 1.75 0 1 0 3.5 0a1.75 1.75 0 1 0 -3.5 0M1002.48 1745.80a1.75 1.75 0 1 0 3.5 0a1.75 1.75 0 1 0 -3.5 0M997.65 1754.48a1.75 1.75 0 1 0 3.5 0a1.75 1.75 0 1 0 -3.5 0M1007.31 1747.72a1.75 1.75 0 1 0 3.5 0a1.75 1.75 0 1 0 -3.5 0M997.65 1747.72a1.75 1.75 0 1 0 3.5 0a1.75 1.75 0 1 0 -3.5 0M1007.31 1754.48a1.75 1.75 0 1 0 3.5 0a1.75 1.75 0 1 0 -3.5 0M1017.48 1756.40a1.75 1.75 0 1 0 3.5 0a1.75 1.75 0 1 0 -3.5 0M1017.48 1745.80a1.75 1.75 0 1 0 3.5 0a1.75 1.75 0 1 0 -3.5 0M1012.65 1754.48a1.75 1.75 0 1 0 3.5 0a1.75 1.75 0 1 0 -3.5 0M1022.31 1747.72a1.75 1.75 0 1 0 3.5 0a1.75 1.75 0 1 0 -3.5 0M1012.65 1747.72a1.75 1.75 0 1 0 3.5 0a1.75 1.75 0 1 0 -3.5 0M1022.31 1754.48a1.75 1.75 0 1 0 3.5 0a1.75 1.75 0 1 0 -3.5 0" fill="#000"/>
<path d="M928.6 1754.6L928.6 1720.1L1150.3 1720.1L1150.3 1937.1" stroke="#000" stroke-width="2.2" fill="none"/>
<text x="1039.4" y="1707.1" font-family="Liberation Sans, sans-serif" font-size="20" text-anchor="middle">ns</text>
<path d="M928.6 1706.1L928.6 1667.3L1205.7 1667.3L1205.7 1983.8" stroke="#000" stroke-width="2.2" fill="none"/>
<text x="1067.2" y="1654.3" font-family="Liberation Sans, sans-serif" font-size="20" text-anchor="middle">ns</text>
<path d="M928.6 1653.3L928.6 1614.1L1261.1 1614.1L1261.1 1953.1" stroke="#000" stroke-width="2.2" fill="none"/>
<text x="1094.9" y="1601.1" font-family="Liberation Sans, sans-serif" font-size="20" text-anchor="middle">ns</text>
<path d="M928.6 1600.1L928.6 1561.8L1316.5 1561.8L1316.5 1969.1" stroke="#000" stroke-width="2.2" fill="none"/>
<path d="M1122.57 1549.60L1122.57 1539.00M1117.74 1547.68L1127.40 1540.92M1117.74 1540.92L1127.40 1547.68" stroke="#000" stroke-width="3.0" stroke-linecap="butt" fill="none"/><path d="M1120.82 1549.60a1.75 1.75 0 1 0 3.5 0a1.75 1.75 0 1 0 -3.5 0M1120.82 1539.00a1.75 1.75 0 1 0 3.5 0a1.75 1.75 0 1 0 -3.5 0M1115.99 1547.68a1.75 1.75 0 1 0 3.5 0a1.75 1.75 0 1 0 -3.5 0M1125.65 1540.92a1.75 1.75 0 1 0 3.5 0a1.75 1.75 0 1 0 -3.5 0M1115.99 1540.92a1.75 1.75 0 1 0 3.5 0a1.75 1.75 0 1 0 -3.5 0M1125.65 1547.68a1.75 1.75 0 1 0 3.5 0a1.75 1.75 0 1 0 -3.5 0" fill="#000"/>
<path d="M928.6 1547.8L928.6 1512.3L1372.0 1512.3L1372.0 2015.3" stroke="#000" stroke-width="2.2" fill="none"/>
<path d="M1142.78 1500.10L1142.78 1489.50M1137.95 1498.18L1147.61 1491.42M1137.95 1491.42L1147.61 1498.18M1157.78 1500.10L1157.78 1489.50M1152.95 1498.18L1162.61 1491.42M1152.95 1491.42L1162.61 1498.18" stroke="#000" stroke-width="3.0" stroke-linecap="butt" fill="none"/><path d="M1141.03 1500.10a1.75 1.75 0 1 0 3.5 0a1.75 1.75 0 1 0 -3.5 0M1141.03 1489.50a1.75 1.75 0 1 0 3.5 0a1.75 1.75 0 1 0 -3.5 0M1136.20 1498.18a1.75 1.75 0 1 0 3.5 0a1.75 1.75 0 1 0 -3.5 0M1145.86 1491.42a1.75 1.75 0 1 0 3.5 0a1.75 1.75 0 1 0 -3.5 0M1136.20 1491.42a1.75 1.75 0 1 0 3.5 0a1.75 1.75 0 1 0 -3.5 0M1145.86 1498.18a1.75 1.75 0 1 0 3.5 0a1.75 1.75 0 1 0 -3.5 0M1156.03 1500.10a1.75 1.75 0 1 0 3.5 0a1.75 1.75 0 1 0 -3.5 0M1156.03 1489.50a1.75 1.75 0 1 0 3.5 0a1.75 1.75 0 1 0 -3.5 0M1151.20 1498.18a1.75 1.75 0 1 0 3.5 0a1.75 1.75 0 1 0 -3.5 0M1160.86 1491.42a1.75 1.75 0 1 0 3.5 0a1.75 1.75 0 1 0 -3.5 0M1151.20 1491.42a1.75 1.75 0 1 0 3.5 0a1.75 1.75 0 1 0 -3.5 0M1160.86 1498.18a1.75 1.75 0 1 0 3.5 0a1.75 1.75 0 1 0 -3.5 0" fill="#000"/>
<path d="M928.6 1498.3L928.6 1463.8L1427.4 1463.8L1427.4 2024.5" stroke="#000" stroke-width="2.2" fill="none"/>
<path d="M1170.49 1451.60L1170.49 1441.00M1165.66 1449.68L1175.32 1442.92M1165.66 1442.92L1175.32 1449.68M1185.49 1451.60L1185.49 1441.00M1180.66 1449.68L1190.32 1442.92M1180.66 1442.92L1190.32 1449.68" stroke="#000" stroke-width="3.0" stroke-linecap="butt" fill="none"/><path d="M1168.74 1451.60a1.75 1.75 0 1 0 3.5 0a1.75 1.75 0 1 0 -3.5 0M1168.74 1441.00a1.75 1.75 0 1 0 3.5 0a1.75 1.75 0 1 0 -3.5 0M1163.91 1449.68a1.75 1.75 0 1 0 3.5 0a1.75 1.75 0 1 0 -3.5 0M1173.57 1442.92a1.75 1.75 0 1 0 3.5 0a1.75 1.75 0 1 0 -3.5 0M1163.91 1442.92a1.75 1.75 0 1 0 3.5 0a1.75 1.75 0 1 0 -3.5 0M1173.57 1449.68a1.75 1.75 0 1 0 3.5 0a1.75 1.75 0 1 0 -3.5 0M1183.74 1451.60a1.75 1.75 0 1 0 3.5 0a1.75 1.75 0 1 0 -3.5 0M1183.74 1441.00a1.75 1.75 0 1 0 3.5 0a1.75 1.75 0 1 0 -3.5 0M1178.91 1449.68a1.75 1.75 0 1 0 3.5 0a1.75 1.75 0 1 0 -3.5 0M1188.57 1442.92a1.75 1.75 0 1 0 3.5 0a1.75 1.75 0 1 0 -3.5 0M1178.91 1442.92a1.75 1.75 0 1 0 3.5 0a1.75 1.75 0 1 0 -3.5 0M1188.57 1449.68a1.75 1.75 0 1 0 3.5 0a1.75 1.75 0 1 0 -3.5 0" fill="#000"/>
<circle cx="851.8" cy="1878" r="0.9" fill="#999"/>
<circle cx="852.2" cy="2036" r="0.9" fill="#999"/>
<text x="677.06" y="43.20" font-family="Liberation Sans, sans-serif" font-weight="bold" font-size="53.8" textLength="108.60" lengthAdjust="spacingAndGlyphs">MTT</text>
<text x="800.14" y="43.20" font-family="Liberation Sans, sans-serif" font-weight="bold" font-size="53.8" textLength="121.66" lengthAdjust="spacingAndGlyphs">Doxo</text>
<text x="5.72" y="71.30" font-family="Liberation Sans, sans-serif" font-weight="bold" font-size="32.5" textLength="22.50" lengthAdjust="spacingAndGlyphs">A</text>
<text x="61.41" y="77.90" font-family="Liberation Sans, sans-serif" font-weight="bold" font-size="43.9" textLength="120.68" lengthAdjust="spacingAndGlyphs">BT549</text>
<text x="263.96" y="94.70" font-family="Liberation Sans, sans-serif" font-weight="bold" font-size="45.0" textLength="47.25" lengthAdjust="spacingAndGlyphs">48</text>
<text x="321.91" y="94.70" font-family="Liberation Sans, sans-serif" font-weight="bold" font-size="45.0" textLength="111.03" lengthAdjust="spacingAndGlyphs">hours</text>
<text x="1078.80" y="94.70" font-family="Liberation Sans, sans-serif" font-weight="bold" font-size="45.0" textLength="46.68" lengthAdjust="spacingAndGlyphs">72</text>
<text x="1136.80" y="94.70" font-family="Liberation Sans, sans-serif" font-weight="bold" font-size="45.0" textLength="111.45" lengthAdjust="spacingAndGlyphs">hours</text>
<text x="4.89" y="1246.90" font-family="Liberation Sans, sans-serif" font-weight="bold" font-size="30.0" textLength="21.67" lengthAdjust="spacingAndGlyphs">B</text>
<text x="46.33" y="1252.30" font-family="Liberation Sans, sans-serif" font-weight="bold" font-size="44.2" textLength="264.77" lengthAdjust="spacingAndGlyphs">MDA-MB-231</text>
<text x="269.96" y="1333.70" font-family="Liberation Sans, sans-serif" font-weight="bold" font-size="44.8" textLength="47.25" lengthAdjust="spacingAndGlyphs">48</text>
<text x="327.40" y="1333.70" font-family="Liberation Sans, sans-serif" font-weight="bold" font-size="44.8" textLength="111.45" lengthAdjust="spacingAndGlyphs">hours</text>
<text x="1084.17" y="1333.70" font-family="Liberation Sans, sans-serif" font-weight="bold" font-size="44.8" textLength="47.44" lengthAdjust="spacingAndGlyphs">72</text>
<text x="1142.92" y="1333.70" font-family="Liberation Sans, sans-serif" font-weight="bold" font-size="44.8" textLength="110.72" lengthAdjust="spacingAndGlyphs">hours</text>
</svg></body></html>
